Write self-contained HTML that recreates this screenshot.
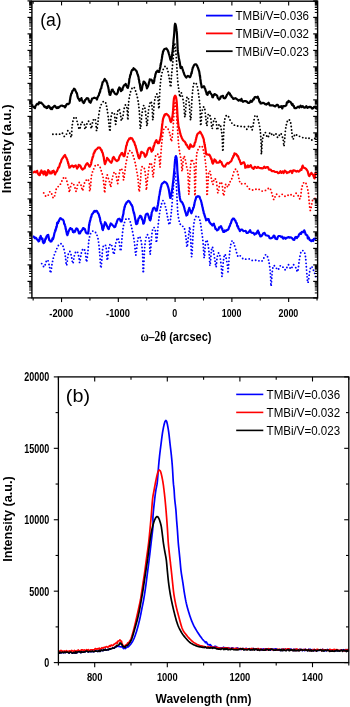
<!DOCTYPE html><html><head><meta charset="utf-8"><style>html,body{margin:0;padding:0;background:#fff;width:350px;height:707px;overflow:hidden}svg{display:block;filter:blur(0.3px)}text{font-family:"Liberation Sans",sans-serif}</style></head><body>
<svg width="350" height="707" viewBox="0 0 350 707">
<rect width="350" height="707" fill="#fff"/>
<g id="curvesA"><path d="M41.70,263.60C42.13,264.17 43.58,267.28 44.30,267.00C45.02,266.72 45.43,263.05 46.00,261.90C46.57,260.75 47.13,259.40 47.70,260.10C48.27,260.80 48.92,263.95 49.40,266.10C49.88,268.25 50.17,273.28 50.60,273.00C51.03,272.72 51.48,267.12 52.00,264.40C52.52,261.68 52.98,259.12 53.70,256.70C54.42,254.28 55.43,251.90 56.30,249.90C57.17,247.90 58.05,245.70 58.90,244.70C59.75,243.70 60.70,243.62 61.40,243.90C62.10,244.18 62.52,244.83 63.10,246.40C63.68,247.97 64.47,251.15 64.90,253.30C65.33,255.45 65.42,257.30 65.70,259.30C65.98,261.30 66.17,266.17 66.60,265.30C67.03,264.43 67.73,256.38 68.30,254.10C68.87,251.82 69.43,251.02 70.00,251.60C70.57,252.18 71.22,255.60 71.70,257.60C72.18,259.60 72.47,263.88 72.90,263.60C73.33,263.32 73.78,257.90 74.30,255.90C74.82,253.90 75.43,252.18 76.00,251.60C76.57,251.02 77.18,251.27 77.70,252.40C78.22,253.53 78.75,256.68 79.10,258.40C79.45,260.12 79.47,263.42 79.80,262.70C80.13,261.98 80.58,256.38 81.10,254.10C81.62,251.82 82.32,249.70 82.90,249.00C83.48,248.30 84.10,248.62 84.60,249.90C85.10,251.18 85.57,254.70 85.90,256.70C86.23,258.70 86.25,262.90 86.60,261.90C86.95,260.90 87.62,254.28 88.00,250.70C88.38,247.12 88.47,243.25 88.90,240.40C89.33,237.55 89.90,235.17 90.60,233.60C91.30,232.03 92.25,231.15 93.10,231.00C93.95,230.85 94.95,231.68 95.70,232.70C96.45,233.72 97.08,235.22 97.60,237.10C98.12,238.98 98.43,241.13 98.80,244.00C99.17,246.87 99.43,250.30 99.80,254.30C100.17,258.30 100.52,268.87 101.00,268.00C101.48,267.13 102.13,252.95 102.70,249.10C103.27,245.25 103.83,245.18 104.40,244.90C104.97,244.62 105.62,244.83 106.10,247.40C106.58,249.97 106.87,260.02 107.30,260.30C107.73,260.58 108.18,251.82 108.70,249.10C109.22,246.38 109.83,244.42 110.40,244.00C110.97,243.58 111.52,244.88 112.10,246.60C112.68,248.32 113.32,254.73 113.90,254.30C114.48,253.87 114.98,246.72 115.60,244.00C116.22,241.28 117.03,238.43 117.60,238.00C118.17,237.57 118.48,239.25 119.00,241.40C119.52,243.55 120.18,251.62 120.70,250.90C121.22,250.18 121.67,241.10 122.10,237.10C122.53,233.10 122.90,229.32 123.30,226.90C123.70,224.48 123.98,223.98 124.50,222.60C125.02,221.22 125.60,219.15 126.40,218.60C127.20,218.05 128.58,218.47 129.30,219.30C130.02,220.13 130.27,222.05 130.70,223.60C131.13,225.15 131.42,226.35 131.90,228.60C132.38,230.85 133.12,234.25 133.60,237.10C134.08,239.95 134.43,242.70 134.80,245.70C135.17,248.70 135.28,256.23 135.80,255.10C136.32,253.97 137.22,241.90 137.90,238.90C138.58,235.90 139.28,236.25 139.90,237.10C140.52,237.95 141.13,240.85 141.60,244.00C142.07,247.15 142.42,251.15 142.70,256.00C142.98,260.85 142.97,274.53 143.30,273.10C143.63,271.67 144.18,253.53 144.70,247.40C145.22,241.27 145.83,238.30 146.40,236.30C146.97,234.30 147.58,234.40 148.10,235.40C148.62,236.40 149.15,239.15 149.50,242.30C149.85,245.45 149.80,255.68 150.20,254.30C150.60,252.92 151.32,238.47 151.90,234.00C152.48,229.53 153.08,227.82 153.70,227.50C154.32,227.18 155.13,229.62 155.60,232.10C156.07,234.58 156.03,243.93 156.50,242.40C156.97,240.87 157.78,228.32 158.40,222.90C159.02,217.48 159.43,213.62 160.20,209.90C160.97,206.18 162.07,200.92 163.00,200.60C163.93,200.28 165.03,205.22 165.80,208.00C166.57,210.78 166.98,214.52 167.60,217.30C168.22,220.08 168.87,225.63 169.50,224.70C170.13,223.77 170.83,217.00 171.40,211.70C171.97,206.40 172.42,198.67 172.90,192.90C173.38,187.13 173.95,180.68 174.30,177.10C174.65,173.52 174.65,169.97 175.00,171.40C175.35,172.83 176.05,180.93 176.40,185.70C176.75,190.47 176.85,195.35 177.10,200.00C177.35,204.65 177.47,209.78 177.90,213.60C178.33,217.42 179.08,220.90 179.70,222.90C180.32,224.90 180.82,224.68 181.60,225.60C182.38,226.52 183.63,226.07 184.40,228.40C185.17,230.73 185.75,236.50 186.20,239.60C186.65,242.70 186.63,248.25 187.10,247.00C187.57,245.75 188.53,235.35 189.00,232.10C189.47,228.85 189.58,225.63 189.90,227.50C190.22,229.37 190.58,238.50 190.90,243.30C191.22,248.10 191.35,259.08 191.80,256.30C192.25,253.52 192.98,233.10 193.60,226.60C194.22,220.10 194.78,219.03 195.50,217.30C196.22,215.57 197.15,215.63 197.90,216.20C198.65,216.77 199.42,218.52 200.00,220.70C200.58,222.88 200.92,225.97 201.40,229.30C201.88,232.63 202.53,237.13 202.90,240.70C203.27,244.27 203.37,247.83 203.60,250.70C203.83,253.57 204.02,258.85 204.30,257.90C204.58,256.95 204.95,247.98 205.30,245.00C205.65,242.02 205.97,240.23 206.40,240.00C206.83,239.77 207.42,241.10 207.90,243.60C208.38,246.10 208.95,251.32 209.30,255.00C209.65,258.68 209.65,266.42 210.00,265.70C210.35,264.98 211.00,253.80 211.40,250.70C211.80,247.60 212.03,246.87 212.40,247.10C212.77,247.33 213.17,249.83 213.60,252.10C214.03,254.37 214.58,258.20 215.00,260.70C215.42,263.20 215.75,267.57 216.10,267.10C216.45,266.63 216.68,260.27 217.10,257.90C217.52,255.53 218.12,253.15 218.60,252.90C219.08,252.65 219.53,253.90 220.00,256.40C220.47,258.90 221.05,264.57 221.40,267.90C221.75,271.23 221.78,277.37 222.10,276.40C222.42,275.43 222.87,265.78 223.30,262.10C223.73,258.42 224.23,255.00 224.70,254.30C225.17,253.60 225.62,255.88 226.10,257.90C226.58,259.92 227.27,264.15 227.60,266.40C227.93,268.65 227.82,273.07 228.10,271.40C228.38,269.73 228.87,260.80 229.30,256.40C229.73,252.00 230.18,247.62 230.70,245.00C231.22,242.38 231.87,240.93 232.40,240.70C232.93,240.47 233.35,242.17 233.90,243.60C234.45,245.03 235.03,247.17 235.70,249.30C236.37,251.43 237.18,255.33 237.90,256.40C238.62,257.47 239.30,255.45 240.00,255.70C240.70,255.95 241.38,257.30 242.10,257.90C242.82,258.50 243.23,259.17 244.30,259.30C245.37,259.43 247.28,258.53 248.50,258.70C249.72,258.87 250.55,260.03 251.60,260.30C252.65,260.57 253.75,260.30 254.80,260.30C255.85,260.30 257.03,260.13 257.90,260.30C258.77,260.47 259.22,261.28 260.00,261.30C260.78,261.32 261.75,261.40 262.60,260.40C263.45,259.40 264.38,256.15 265.10,255.30C265.82,254.45 266.32,254.45 266.90,255.30C267.48,256.15 268.10,258.27 268.60,260.40C269.10,262.53 269.57,265.38 269.90,268.10C270.23,270.82 270.40,273.70 270.60,276.70C270.80,279.70 270.82,286.95 271.10,286.10C271.38,285.25 271.87,275.02 272.30,271.60C272.73,268.18 273.03,266.18 273.70,265.60C274.37,265.02 275.58,267.38 276.30,268.10C277.02,268.82 277.28,270.32 278.00,269.90C278.72,269.48 279.75,266.03 280.60,265.60C281.45,265.17 282.25,266.58 283.10,267.30C283.95,268.02 284.83,270.33 285.70,269.90C286.57,269.47 287.43,264.85 288.30,264.70C289.17,264.55 290.05,269.00 290.90,269.00C291.75,269.00 292.55,264.85 293.40,264.70C294.25,264.55 295.28,266.95 296.00,268.10C296.72,269.25 297.13,273.02 297.70,271.60C298.27,270.18 298.83,262.88 299.40,259.60C299.97,256.32 300.38,253.33 301.10,251.90C301.82,250.47 302.98,250.30 303.70,251.00C304.42,251.70 304.97,253.53 305.40,256.10C305.83,258.67 306.02,262.97 306.30,266.40C306.58,269.83 306.82,273.98 307.10,276.70C307.38,279.42 307.57,283.55 308.00,282.70C308.43,281.85 309.13,274.32 309.70,271.60C310.27,268.88 310.68,266.40 311.40,266.40C312.12,266.40 313.28,269.88 314.00,271.60C314.72,273.32 315.42,275.85 315.70,276.70" fill="none" stroke="#0000ff" stroke-width="1.9" stroke-dasharray="0 3.4" stroke-linecap="round"/>
<path d="M32.90,236.27 L33.82,236.77 L35.00,238.25 L35.72,237.63 L36.44,238.54 L37.10,239.54 L37.85,239.90 L38.60,241.43 L38.98,241.17 L39.39,240.55 L39.82,237.46 L40.26,237.03 L40.70,235.99 L41.26,238.33 L41.84,239.07 L42.40,238.53 L42.90,242.00 L43.61,243.14 L44.30,242.52 L44.68,241.90 L45.12,239.80 L45.57,238.40 L46.01,238.78 L46.40,236.71 L47.19,235.48 L47.90,235.00 L48.25,234.96 L48.58,237.13 L48.92,238.21 L49.30,240.22 L49.87,240.37 L50.49,241.55 L51.10,241.40 L51.54,241.41 L51.98,240.03 L52.43,238.47 L52.90,239.24 L53.23,238.43 L53.58,237.13 L53.93,235.83 L54.29,233.77 L54.65,232.48 L55.00,231.53 L55.26,230.04 L55.52,230.93 L55.78,228.90 L56.04,229.04 L56.31,226.75 L56.57,227.29 L56.83,226.06 L57.10,222.95 L57.54,222.39 L57.98,223.30 L58.42,221.30 L58.86,221.39 L59.30,219.84 L60.35,218.17 L61.40,218.81 L62.13,219.50 L62.87,219.62 L63.60,220.74 L63.87,221.83 L64.14,223.65 L64.41,224.23 L64.68,224.16 L64.95,225.36 L65.21,226.11 L65.46,227.00 L65.70,229.08 L65.96,229.15 L66.21,230.93 L66.45,231.95 L66.68,232.65 L66.91,234.45 L67.15,234.14 L67.40,235.23 L67.70,234.08 L68.01,233.68 L68.32,232.13 L68.64,230.91 L68.97,230.85 L69.30,229.79 L70.33,228.06 L71.40,229.22 L71.95,228.85 L72.50,230.27 L73.05,232.09 L73.60,232.33 L74.33,231.15 L75.06,231.64 L75.70,229.54 L76.39,228.47 L77.10,229.04 L77.42,228.88 L77.78,229.76 L78.16,230.51 L78.54,231.63 L78.93,233.28 L79.30,233.19 L80.00,233.38 L80.70,231.75 L81.40,230.63 L82.13,230.26 L82.87,228.34 L83.60,228.02 L84.13,228.95 L84.65,228.83 L85.17,229.92 L85.70,232.05 L86.46,233.16 L87.22,233.37 L87.90,233.10 L88.07,233.50 L88.23,233.12 L88.38,231.06 L88.52,231.26 L88.65,230.06 L88.78,228.48 L88.91,227.06 L89.03,225.48 L89.16,224.40 L89.30,225.04 L89.52,222.72 L89.74,222.46 L89.95,220.84 L90.17,220.88 L90.42,219.66 L90.70,218.27 L91.02,217.09 L91.38,216.91 L91.76,214.82 L92.14,214.08 L92.53,213.72 L92.90,213.46 L93.61,212.09 L94.30,211.00 L95.00,211.77 L96.04,210.75 L97.10,211.33 L97.54,212.32 L97.98,213.32 L98.42,213.56 L98.86,214.74 L99.30,216.19 L99.54,217.25 L99.78,217.38 L100.03,218.65 L100.27,220.45 L100.51,221.56 L100.75,222.00 L100.98,222.98 L101.19,223.66 L101.40,223.72 L101.73,224.92 L102.01,226.28 L102.29,228.92 L102.57,229.40 L102.90,230.04 L103.17,228.14 L103.46,228.25 L103.76,226.84 L104.07,225.97 L104.38,224.10 L104.69,224.23 L105.00,222.22 L105.72,223.22 L106.44,224.80 L107.10,226.34 L107.62,227.33 L108.08,228.54 L108.60,229.07 L108.91,228.81 L109.25,227.04 L109.61,226.49 L109.97,225.73 L110.34,224.75 L110.70,223.47 L111.80,224.32 L112.90,225.58 L113.61,226.08 L114.30,227.20 L115.00,226.91 L115.30,226.73 L115.60,225.94 L115.89,224.05 L116.19,223.81 L116.49,223.25 L116.79,222.07 L117.10,221.07 L117.83,219.32 L118.57,219.15 L119.30,218.73 L120.03,219.39 L120.75,221.46 L121.40,220.73 L121.68,221.39 L121.92,219.54 L122.15,219.51 L122.38,218.20 L122.62,216.57 L122.90,216.02 L123.07,214.92 L123.25,214.24 L123.43,213.78 L123.62,211.72 L123.81,210.30 L124.01,209.74 L124.21,209.33 L124.41,207.61 L124.61,206.66 L124.81,207.03 L125.00,205.96 L125.52,204.19 L126.04,203.95 L126.57,202.37 L127.10,202.37 L128.20,200.86 L129.30,201.29 L130.00,202.43 L130.70,203.55 L131.40,204.91 L131.67,204.78 L131.95,205.84 L132.22,206.23 L132.50,206.82 L132.78,208.33 L133.05,209.86 L133.33,210.90 L133.60,211.74 L133.80,212.95 L134.00,212.78 L134.20,213.58 L134.41,215.04 L134.61,215.79 L134.81,216.71 L135.01,218.03 L135.19,219.31 L135.37,219.96 L135.54,220.45 L135.70,221.94 L136.15,223.98 L136.50,224.16 L136.90,223.62 L137.15,223.06 L137.41,223.50 L137.69,221.04 L137.99,220.89 L138.29,219.56 L138.60,218.29 L139.28,217.83 L140.00,215.75 L140.70,215.82 L141.11,216.79 L141.52,216.96 L141.91,219.30 L142.28,219.41 L142.60,220.13 L142.96,221.45 L143.22,223.69 L143.60,223.51 L143.79,223.37 L144.01,222.71 L144.24,222.04 L144.50,221.24 L144.75,219.70 L145.01,217.82 L145.26,217.23 L145.49,215.87 L145.70,214.92 L146.44,213.94 L147.10,213.94 L147.59,213.63 L148.08,214.86 L148.60,216.15 L149.01,217.85 L149.43,218.95 L149.86,220.12 L150.30,220.41 L150.49,219.39 L150.69,219.29 L150.88,218.53 L151.07,216.12 L151.27,216.29 L151.47,214.76 L151.67,212.66 L151.88,212.16 L152.10,211.60 L152.52,210.79 L152.96,208.79 L153.41,208.15 L153.86,207.99 L154.30,207.57 L154.85,208.39 L155.39,208.97 L155.92,210.56 L156.40,210.23 L156.65,210.68 L156.88,210.17 L157.09,209.00 L157.30,208.07 L157.50,206.12 L157.70,206.06 L157.90,205.07 L158.06,204.21 L158.20,202.62 L158.35,202.11 L158.49,200.42 L158.64,200.39 L158.79,199.32 L158.94,197.51 L159.11,196.06 L159.30,195.61 L159.46,194.90 L159.63,194.32 L159.80,192.90 L159.98,191.17 L160.16,191.42 L160.35,189.24 L160.55,189.46 L160.75,187.53 L160.96,186.93 L161.18,186.86 L161.40,185.12 L161.94,183.82 L162.54,183.32 L163.16,182.79 L163.76,182.34 L164.30,181.70 L165.39,182.24 L166.40,182.90 L166.77,183.70 L167.14,184.23 L167.52,185.18 L167.90,186.29 L168.26,187.33 L168.60,188.67 L168.79,189.49 L168.98,190.45 L169.17,191.64 L169.35,192.71 L169.53,193.79 L169.70,194.92 L169.86,196.07 L170.02,196.95 L170.16,197.40 L170.30,198.01 L170.58,197.99 L170.81,196.76 L171.00,195.29 L171.20,193.91 L171.40,193.22 L171.58,192.54 L171.77,191.73 L172.00,190.26 L172.10,189.85 L172.22,188.92 L172.34,188.02 L172.46,187.22 L172.59,186.18 L172.72,185.15 L172.84,184.19 L172.97,182.97 L173.09,182.10 L173.20,181.07 L173.30,180.34 L173.40,179.42 L173.50,178.30 L173.59,177.43 L173.68,176.39 L173.78,175.54 L173.87,174.72 L173.95,173.82 L174.04,172.77 L174.12,171.83 L174.20,170.91 L174.28,170.07 L174.36,169.19 L174.44,167.97 L174.51,167.19 L174.58,166.01 L174.65,165.13 L174.71,164.25 L174.78,163.55 L174.84,162.66 L174.90,161.96 L175.01,160.80 L175.11,159.60 L175.21,158.92 L175.30,158.01 L175.40,157.50 L175.90,156.13 L176.50,157.71 L176.61,158.57 L176.71,159.47 L176.81,160.51 L176.91,161.70 L177.00,163.01 L177.05,163.75 L177.10,164.67 L177.14,165.74 L177.18,166.74 L177.23,167.73 L177.27,168.89 L177.33,169.91 L177.40,171.11 L177.46,171.76 L177.52,172.79 L177.59,173.72 L177.66,174.67 L177.74,175.44 L177.81,176.39 L177.89,177.52 L177.97,178.26 L178.05,179.43 L178.13,180.32 L178.20,180.99 L178.28,181.99 L178.36,183.10 L178.43,183.91 L178.51,184.81 L178.59,185.97 L178.67,186.78 L178.75,187.81 L178.83,188.52 L178.91,189.49 L179.00,190.46 L179.10,191.24 L179.21,192.29 L179.33,193.44 L179.44,194.49 L179.56,195.46 L179.67,196.11 L179.79,197.07 L179.90,197.91 L180.00,198.50 L180.27,199.99 L180.52,200.70 L180.80,201.27 L181.90,201.98 L182.27,202.57 L182.69,203.51 L183.13,204.48 L183.60,205.72 L183.85,206.36 L184.11,207.27 L184.39,208.27 L184.67,209.50 L184.95,210.56 L185.21,211.50 L185.47,212.10 L185.70,212.77 L186.39,215.52 L187.10,214.94 L187.37,214.86 L187.67,213.20 L187.99,212.24 L188.32,211.06 L188.66,209.78 L188.98,209.19 L189.30,207.82 L189.72,209.26 L190.14,210.59 L190.56,210.88 L190.98,212.44 L191.40,213.28 L191.76,212.40 L192.13,211.33 L192.50,210.26 L192.87,209.63 L193.24,207.56 L193.60,207.73 L193.84,206.73 L194.07,205.61 L194.30,204.84 L194.52,203.41 L194.75,201.99 L194.98,201.28 L195.22,200.17 L195.45,200.09 L195.70,199.09 L196.27,196.94 L196.87,197.05 L197.48,196.23 L198.10,196.14 L198.76,196.55 L199.44,196.68 L200.11,198.59 L200.70,199.91 L200.95,200.39 L201.18,201.40 L201.39,202.37 L201.59,202.82 L201.79,204.39 L201.98,204.41 L202.18,205.87 L202.40,207.05 L202.63,207.26 L202.86,208.75 L203.09,210.13 L203.33,211.03 L203.56,211.31 L203.81,213.33 L204.05,213.74 L204.30,214.04 L204.65,215.67 L205.01,216.69 L205.38,217.74 L205.74,218.50 L206.08,220.28 L206.40,220.23 L207.15,219.71 L207.90,219.02 L208.28,219.89 L208.68,219.22 L209.11,221.20 L209.55,222.43 L210.00,222.51 L210.60,223.65 L211.24,223.95 L211.86,224.86 L212.40,225.50 L213.20,224.18 L213.90,223.70 L214.27,225.41 L214.64,225.99 L215.04,227.16 L215.50,228.85 L216.24,229.06 L217.08,230.33 L217.90,229.82 L218.50,229.53 L219.10,227.37 L219.68,227.21 L220.20,226.91 L221.04,226.13 L221.80,228.79 L222.18,228.50 L222.56,230.20 L222.95,230.83 L223.40,231.99 L224.11,232.02 L224.90,230.37 L225.70,231.11 L226.90,230.12 L228.10,229.64 L228.49,229.10 L228.87,227.87 L229.25,226.75 L229.63,226.30 L230.01,225.12 L230.40,223.75 L230.88,223.37 L231.36,221.57 L231.84,220.07 L232.32,219.57 L232.80,218.67 L233.95,218.61 L235.10,220.61 L235.49,220.68 L235.89,222.35 L236.29,223.10 L236.70,223.03 L237.10,225.56 L237.50,226.41 L237.98,226.10 L238.46,228.55 L238.95,228.84 L239.43,229.79 L239.90,231.16 L241.05,229.55 L242.20,229.66 L243.35,231.03 L244.60,231.00 L245.61,230.88 L246.69,232.91 L247.70,232.86 L248.95,231.83 L250.10,230.16 L250.84,232.16 L251.57,232.68 L252.40,232.80 L253.43,232.92 L254.57,234.56 L255.60,233.39 L256.24,233.56 L256.80,233.06 L257.34,231.47 L257.90,230.56 L258.36,231.83 L258.82,232.28 L259.28,234.32 L259.77,234.62 L260.30,236.44 L261.27,236.23 L262.31,234.97 L263.40,233.19 L264.54,232.88 L265.73,235.23 L266.90,235.47 L267.59,235.63 L268.27,235.74 L268.94,236.37 L269.62,238.20 L270.30,238.28 L271.15,238.20 L272.00,237.72 L272.85,237.39 L273.70,235.56 L274.55,235.99 L275.39,238.55 L276.24,238.96 L277.10,239.12 L277.97,236.57 L278.85,236.01 L279.73,235.98 L280.60,236.20 L281.46,237.18 L282.31,236.63 L283.15,238.66 L284.00,237.85 L284.85,237.70 L285.69,238.74 L286.54,237.79 L287.40,237.65 L288.56,237.04 L289.74,237.68 L290.90,237.32 L292.04,238.10 L293.17,239.62 L294.30,239.91 L295.15,237.47 L296.00,236.94 L296.85,238.02 L297.70,236.73 L298.38,236.48 L299.07,234.27 L299.76,234.11 L300.44,232.96 L301.10,233.84 L301.92,231.87 L302.73,231.86 L303.50,232.21 L304.20,230.33 L304.78,231.47 L305.28,233.01 L305.76,234.69 L306.30,234.50 L306.79,235.22 L307.31,235.43 L307.84,238.46 L308.38,237.16 L308.90,237.87 L309.74,240.03 L310.56,240.37 L311.40,241.20 L312.26,240.08 L313.14,241.01 L314.00,238.76 L315.41,238.63 L316.50,239.44" fill="none" stroke="#0000ff" stroke-width="2.2" stroke-linejoin="round"/>
<path d="M43.70,192.90C44.08,193.47 45.23,195.93 46.00,196.30C46.77,196.67 47.63,195.87 48.30,195.10C48.97,194.33 49.43,191.88 50.00,191.70C50.57,191.52 51.13,192.95 51.70,194.00C52.27,195.05 52.83,197.90 53.40,198.00C53.97,198.10 54.72,195.75 55.10,194.60C55.48,193.45 55.40,192.25 55.70,191.10C56.00,189.95 56.23,188.65 56.90,187.70C57.57,186.75 58.95,186.35 59.70,185.40C60.45,184.45 60.83,183.13 61.40,182.00C61.97,180.87 62.52,179.45 63.10,178.60C63.68,177.75 64.32,176.62 64.90,176.90C65.48,177.18 66.13,179.07 66.60,180.30C67.07,181.53 67.32,182.97 67.70,184.30C68.08,185.63 68.62,186.97 68.90,188.30C69.18,189.63 69.10,192.62 69.40,192.30C69.70,191.98 70.25,187.97 70.70,186.40C71.15,184.83 71.62,183.25 72.10,182.90C72.58,182.55 73.12,183.47 73.60,184.30C74.08,185.13 74.53,186.72 75.00,187.90C75.47,189.08 75.92,192.12 76.40,191.40C76.88,190.68 77.30,185.02 77.90,183.60C78.50,182.18 79.42,182.43 80.00,182.90C80.58,183.37 80.97,185.10 81.40,186.40C81.83,187.70 82.12,191.17 82.60,190.70C83.08,190.23 83.67,185.38 84.30,183.60C84.93,181.82 85.80,180.72 86.40,180.00C87.00,179.28 87.42,178.70 87.90,179.30C88.38,179.90 89.00,181.58 89.30,183.60C89.60,185.62 89.47,191.17 89.70,191.40C89.93,191.63 90.42,187.50 90.70,185.00C90.98,182.50 91.03,178.78 91.40,176.40C91.77,174.02 92.42,172.12 92.90,170.70C93.38,169.28 93.83,168.85 94.30,167.90C94.77,166.95 95.10,165.48 95.70,165.00C96.30,164.52 97.18,164.65 97.90,165.00C98.62,165.35 99.42,166.03 100.00,167.10C100.58,168.17 100.92,169.85 101.40,171.40C101.88,172.95 102.53,174.62 102.90,176.40C103.27,178.18 103.37,180.18 103.60,182.10C103.83,184.02 104.12,186.10 104.30,187.90C104.48,189.70 104.47,193.87 104.70,192.90C104.93,191.93 105.30,185.08 105.70,182.10C106.10,179.12 106.62,175.47 107.10,175.00C107.58,174.53 108.12,177.87 108.60,179.30C109.08,180.73 109.65,182.30 110.00,183.60C110.35,184.90 110.35,187.82 110.70,187.10C111.05,186.38 111.62,181.55 112.10,179.30C112.58,177.05 113.12,174.80 113.60,173.60C114.08,172.40 114.53,171.63 115.00,172.10C115.47,172.57 115.97,174.48 116.40,176.40C116.83,178.32 117.23,183.35 117.60,183.60C117.97,183.85 118.20,180.17 118.60,177.90C119.00,175.63 119.53,171.55 120.00,170.00C120.47,168.45 120.92,168.12 121.40,168.60C121.88,169.08 122.53,171.00 122.90,172.90C123.27,174.80 123.25,180.37 123.60,180.00C123.95,179.63 124.65,173.20 125.00,170.70C125.35,168.20 125.35,167.13 125.70,165.00C126.05,162.87 126.62,160.05 127.10,157.90C127.58,155.75 128.00,153.30 128.60,152.10C129.20,150.90 129.98,150.22 130.70,150.70C131.42,151.18 132.18,153.10 132.90,155.00C133.62,156.90 134.42,159.72 135.00,162.10C135.58,164.48 135.92,166.67 136.40,169.30C136.88,171.93 137.53,175.05 137.90,177.90C138.27,180.75 138.37,184.15 138.60,186.40C138.83,188.65 138.95,192.82 139.30,191.40C139.65,189.98 140.35,181.82 140.70,177.90C141.05,173.98 140.92,169.70 141.40,167.90C141.88,166.10 143.00,166.52 143.60,167.10C144.20,167.68 144.60,169.02 145.00,171.40C145.40,173.78 145.77,178.30 146.00,181.40C146.23,184.50 146.08,190.95 146.40,190.00C146.72,189.05 147.42,179.75 147.90,175.70C148.38,171.65 148.83,167.83 149.30,165.70C149.77,163.57 150.23,162.67 150.70,162.90C151.17,163.13 151.70,164.73 152.10,167.10C152.50,169.47 152.73,177.33 153.10,177.10C153.47,176.87 153.87,169.27 154.30,165.70C154.73,162.13 155.10,157.60 155.70,155.70C156.30,153.80 157.30,153.82 157.90,154.30C158.50,154.78 158.95,156.47 159.30,158.60C159.65,160.73 159.77,167.35 160.00,167.10C160.23,166.85 160.47,160.43 160.70,157.10C160.93,153.77 161.17,149.95 161.40,147.10C161.63,144.25 161.73,142.85 162.10,140.00C162.47,137.15 163.00,132.15 163.60,130.00C164.20,127.85 164.98,127.33 165.70,127.10C166.42,126.87 167.18,127.40 167.90,128.60C168.62,129.80 169.42,132.17 170.00,134.30C170.58,136.43 170.92,142.12 171.40,141.40C171.88,140.68 172.42,135.47 172.90,130.00C173.38,124.53 173.95,113.37 174.30,108.60C174.65,103.83 174.72,101.40 175.00,101.40C175.28,101.40 175.65,105.02 176.00,108.60C176.35,112.18 176.78,118.62 177.10,122.90C177.42,127.18 177.65,130.73 177.90,134.30C178.15,137.87 178.25,140.97 178.60,144.30C178.95,147.63 179.53,151.45 180.00,154.30C180.47,157.15 181.05,158.55 181.40,161.40C181.75,164.25 181.73,172.12 182.10,171.40C182.47,170.68 183.12,159.23 183.60,157.10C184.08,154.97 184.53,157.17 185.00,158.60C185.47,160.03 185.92,163.32 186.40,165.70C186.88,168.08 187.48,168.13 187.90,172.90C188.32,177.67 188.55,194.30 188.90,194.30C189.25,194.30 189.58,178.62 190.00,172.90C190.42,167.18 190.92,161.92 191.40,160.00C191.88,158.08 192.42,160.22 192.90,161.40C193.38,162.58 193.95,161.38 194.30,167.10C194.65,172.82 194.65,197.12 195.00,195.70C195.35,194.28 195.92,166.22 196.40,158.60C196.88,150.98 197.30,152.03 197.90,150.00C198.50,147.97 199.30,147.00 200.00,146.40C200.70,145.80 201.50,145.57 202.10,146.40C202.70,147.23 203.12,149.37 203.60,151.40C204.08,153.43 204.53,155.02 205.00,158.60C205.47,162.18 206.05,166.72 206.40,172.90C206.75,179.08 206.73,195.47 207.10,195.70C207.47,195.93 208.12,178.35 208.60,174.30C209.08,170.25 209.53,170.68 210.00,171.40C210.47,172.12 210.92,176.45 211.40,178.60C211.88,180.75 212.42,184.30 212.90,184.30C213.38,184.30 213.72,179.08 214.30,178.60C214.88,178.12 215.80,179.02 216.40,181.40C217.00,183.78 217.30,192.65 217.90,192.90C218.50,193.15 219.30,184.33 220.00,182.90C220.70,181.47 221.50,182.17 222.10,184.30C222.70,186.43 223.00,195.70 223.60,195.70C224.20,195.70 224.98,185.73 225.70,184.30C226.42,182.87 227.27,187.32 227.90,187.10C228.53,186.88 228.80,184.53 229.50,183.00C230.20,181.47 231.30,179.95 232.10,177.90C232.90,175.85 233.58,172.13 234.30,170.70C235.02,169.27 235.80,168.82 236.40,169.30C237.00,169.78 237.42,171.82 237.90,173.60C238.38,175.38 238.83,178.33 239.30,180.00C239.77,181.67 239.75,183.00 240.70,183.60C241.65,184.20 243.57,182.72 245.00,183.60C246.43,184.48 247.87,187.83 249.30,188.90C250.73,189.97 252.17,190.00 253.60,190.00C255.03,190.00 256.48,188.72 257.90,188.90C259.32,189.08 260.68,190.92 262.10,191.10C263.52,191.28 265.15,190.53 266.40,190.00C267.65,189.47 268.70,187.37 269.60,187.90C270.50,188.43 271.08,191.25 271.80,193.20C272.52,195.15 273.18,199.42 273.90,199.60C274.62,199.78 275.20,194.83 276.10,194.30C277.00,193.77 278.23,196.40 279.30,196.40C280.37,196.40 281.43,194.30 282.50,194.30C283.57,194.30 284.45,196.40 285.70,196.40C286.95,196.40 288.75,194.30 290.00,194.30C291.25,194.30 292.13,196.58 293.20,196.40C294.27,196.22 295.50,193.20 296.40,193.20C297.30,193.20 297.95,195.50 298.60,196.40C299.25,197.30 299.77,200.02 300.30,198.60C300.83,197.18 301.20,190.58 301.80,187.90C302.40,185.22 303.18,183.22 303.90,182.50C304.62,181.78 305.38,182.00 306.10,183.60C306.82,185.20 307.67,188.88 308.20,192.10C308.73,195.32 308.93,199.85 309.30,202.90C309.67,205.95 309.87,210.77 310.40,210.40C310.93,210.03 311.80,202.67 312.50,200.70C313.20,198.73 313.93,198.88 314.60,198.60C315.27,198.32 316.18,198.93 316.50,199.00" fill="none" stroke="#ff0000" stroke-width="1.9" stroke-dasharray="0 3.4" stroke-linecap="round"/>
<path d="M32.90,172.83 L33.51,172.44 L34.30,171.85 L35.00,171.58 L35.70,172.28 L36.35,172.07 L37.10,170.79 L37.60,172.90 L38.16,173.80 L38.74,174.74 L39.30,175.16 L39.83,174.91 L40.35,172.33 L40.87,171.90 L41.40,170.49 L42.16,172.96 L42.92,171.79 L43.60,174.46 L44.35,171.26 L45.00,171.90 L45.33,171.64 L45.65,173.07 L45.99,175.44 L46.40,173.70 L46.79,173.33 L47.23,174.59 L47.69,172.25 L48.15,170.08 L48.60,172.02 L49.13,172.40 L49.65,171.37 L50.17,173.46 L50.70,173.31 L51.25,173.41 L51.80,173.27 L52.35,171.01 L52.90,171.93 L53.61,170.73 L54.30,172.17 L55.00,174.45 L55.70,172.82 L56.39,171.79 L57.10,170.96 L57.46,169.93 L57.83,168.88 L58.20,167.58 L58.57,167.81 L58.94,167.31 L59.30,166.46 L59.65,165.12 L60.00,163.78 L60.35,162.94 L60.70,162.62 L61.05,161.77 L61.40,160.08 L61.85,159.31 L62.31,158.54 L62.77,157.85 L63.21,157.51 L63.60,156.40 L65.00,154.95 L65.69,157.01 L66.40,157.79 L66.76,158.80 L67.13,159.33 L67.50,160.77 L67.90,161.92 L68.18,163.50 L68.48,163.58 L68.79,165.48 L69.10,165.98 L69.40,167.69 L69.70,167.16 L70.26,167.27 L70.80,166.21 L71.40,165.92 L72.48,165.63 L73.60,167.03 L74.70,165.88 L75.70,165.35 L76.39,166.86 L77.10,168.63 L77.60,167.37 L78.16,167.14 L78.74,164.90 L79.30,165.68 L80.00,165.38 L80.70,166.33 L81.40,168.30 L82.50,169.67 L83.60,168.51 L84.13,168.35 L84.65,168.15 L85.17,166.36 L85.70,165.29 L86.43,163.92 L87.17,163.15 L87.90,163.79 L88.63,165.21 L89.36,166.61 L90.00,166.41 L90.32,165.26 L90.61,164.97 L90.87,164.72 L91.12,163.69 L91.40,162.32 L91.64,160.80 L91.87,160.35 L92.11,159.30 L92.35,158.56 L92.61,156.99 L92.90,157.11 L93.22,156.04 L93.56,153.83 L93.91,152.99 L94.28,152.93 L94.64,151.09 L95.00,151.41 L95.70,149.71 L96.39,149.38 L97.10,148.93 L98.20,147.53 L99.30,147.56 L100.00,147.84 L100.70,149.17 L101.40,150.31 L101.72,150.09 L102.04,152.11 L102.38,152.27 L102.71,152.96 L103.03,154.28 L103.33,156.17 L103.60,156.50 L103.81,157.54 L103.99,159.10 L104.15,160.32 L104.31,161.13 L104.46,161.63 L104.62,162.78 L104.80,163.92 L105.00,164.06 L105.31,163.53 L105.64,162.36 L106.00,161.25 L106.37,160.62 L106.74,159.31 L107.10,157.83 L108.20,159.19 L109.30,160.65 L110.00,161.39 L110.70,162.54 L111.40,162.76 L111.76,161.64 L112.13,161.13 L112.50,159.36 L112.87,157.80 L113.24,157.32 L113.60,156.80 L114.30,158.26 L115.00,159.21 L115.70,160.07 L116.80,161.04 L117.90,160.10 L118.26,160.22 L118.61,159.67 L118.96,158.21 L119.30,156.96 L119.65,156.28 L120.00,155.42 L120.70,154.93 L121.39,153.31 L122.10,152.94 L122.83,154.14 L123.57,156.05 L124.30,156.12 L124.49,155.48 L124.69,155.26 L124.88,153.51 L125.07,152.02 L125.26,151.71 L125.44,150.55 L125.63,149.02 L125.82,148.71 L126.01,147.17 L126.21,146.07 L126.40,145.42 L126.76,145.17 L127.13,142.56 L127.50,142.13 L127.87,141.12 L128.24,140.21 L128.60,139.89 L129.30,138.43 L130.00,138.83 L130.70,137.90 L131.43,138.52 L132.17,138.44 L132.90,139.94 L133.33,140.84 L133.75,141.98 L134.16,141.87 L134.58,143.16 L135.00,144.87 L135.26,145.58 L135.52,145.44 L135.78,146.81 L136.04,148.09 L136.31,148.44 L136.57,149.83 L136.83,150.75 L137.10,152.16 L137.37,152.48 L137.65,153.80 L137.92,154.46 L138.20,156.22 L138.48,156.61 L138.75,157.76 L139.03,158.13 L139.30,158.29 L139.60,157.74 L139.90,157.09 L140.20,156.46 L140.50,154.70 L140.80,153.10 L141.10,153.25 L141.40,151.76 L142.50,152.57 L143.60,153.06 L144.13,153.64 L144.65,155.70 L145.17,156.79 L145.70,156.11 L146.01,155.37 L146.32,155.39 L146.64,154.67 L146.96,153.14 L147.28,152.26 L147.59,150.64 L147.90,150.19 L148.61,148.40 L149.30,147.88 L150.00,147.71 L150.52,148.45 L151.04,149.80 L151.57,151.63 L152.10,150.87 L152.37,150.52 L152.65,149.90 L152.92,150.11 L153.20,148.33 L153.48,146.46 L153.75,146.61 L154.03,145.69 L154.30,144.81 L154.83,142.79 L155.35,142.29 L155.87,140.80 L156.40,140.12 L157.13,141.88 L157.87,143.08 L158.60,142.44 L158.95,143.13 L159.30,141.22 L159.65,140.90 L160.00,139.39 L160.35,138.29 L160.70,136.56 L160.81,136.80 L160.93,135.40 L161.04,134.42 L161.15,133.54 L161.27,132.82 L161.38,132.74 L161.49,131.33 L161.61,129.49 L161.72,129.38 L161.84,128.10 L161.95,126.91 L162.07,126.01 L162.19,125.21 L162.30,124.48 L162.42,123.08 L162.54,122.41 L162.66,121.34 L162.78,120.87 L162.90,119.82 L163.24,118.37 L163.58,117.31 L163.94,116.65 L164.29,115.18 L164.64,115.60 L164.98,114.41 L165.30,114.57 L166.33,113.77 L167.30,114.64 L167.98,115.18 L168.66,115.96 L169.30,117.07 L169.65,118.12 L169.98,119.44 L170.30,120.74 L170.61,121.53 L170.90,121.97 L171.26,121.69 L171.59,120.74 L171.91,119.38 L172.20,117.85 L172.33,117.11 L172.46,116.16 L172.58,115.34 L172.70,114.28 L172.81,113.31 L172.91,112.23 L173.01,111.10 L173.10,110.13 L173.18,108.83 L173.25,107.84 L173.31,106.97 L173.37,105.77 L173.42,104.66 L173.48,103.83 L173.54,102.81 L173.60,102.01 L173.71,100.78 L173.82,99.75 L173.93,98.82 L174.06,98.21 L174.20,97.64 L174.63,96.31 L175.10,95.68 L175.56,96.11 L176.00,97.16 L176.16,97.84 L176.30,98.86 L176.44,99.73 L176.58,100.83 L176.70,101.85 L176.77,102.77 L176.84,103.77 L176.90,104.83 L176.96,105.90 L177.02,106.94 L177.08,107.88 L177.14,108.94 L177.20,110.11 L177.26,111.15 L177.32,112.00 L177.37,112.91 L177.43,114.04 L177.49,115.01 L177.55,115.96 L177.62,116.92 L177.70,117.97 L177.78,119.06 L177.87,119.98 L177.97,121.19 L178.07,122.39 L178.17,123.37 L178.28,124.21 L178.39,125.17 L178.50,125.88 L178.73,127.33 L178.98,128.23 L179.23,128.93 L179.50,130.01 L179.71,130.96 L179.92,131.95 L180.14,132.92 L180.39,133.93 L180.70,134.96 L181.01,136.02 L181.36,136.72 L181.74,137.68 L182.14,138.54 L182.53,139.24 L182.90,139.97 L183.61,140.77 L184.30,141.34 L185.00,142.06 L185.52,142.87 L186.04,144.55 L186.57,144.49 L187.10,145.43 L187.66,146.90 L188.24,147.48 L188.80,148.42 L189.30,148.84 L189.62,147.41 L189.88,147.33 L190.12,145.22 L190.38,144.42 L190.70,144.80 L191.38,145.75 L192.14,146.70 L192.90,146.57 L193.33,146.67 L193.75,145.75 L194.16,145.73 L194.58,143.66 L195.00,142.41 L195.23,142.38 L195.45,141.52 L195.67,140.50 L195.89,139.33 L196.11,139.11 L196.34,137.33 L196.58,137.19 L196.83,135.51 L197.10,134.94 L197.79,133.56 L198.55,133.22 L199.31,132.70 L200.00,131.68 L200.78,132.63 L201.47,134.08 L202.10,135.00 L202.44,135.99 L202.75,136.67 L203.04,137.65 L203.32,138.01 L203.60,138.99 L203.78,139.28 L203.96,141.47 L204.13,142.16 L204.31,142.41 L204.48,144.25 L204.65,145.10 L204.83,144.86 L205.00,146.94 L205.15,147.21 L205.30,148.09 L205.44,149.11 L205.58,150.49 L205.72,151.02 L205.87,152.05 L206.04,153.07 L206.21,154.14 L206.40,154.45 L207.46,154.41 L208.60,154.83 L209.30,154.67 L210.00,155.80 L210.70,157.26 L211.06,158.69 L211.43,158.59 L211.80,159.96 L212.17,162.13 L212.54,163.10 L212.90,163.59 L213.43,162.54 L213.96,161.02 L214.48,159.42 L215.00,159.96 L215.51,160.24 L216.00,161.05 L216.52,162.66 L217.10,162.52 L218.04,162.69 L219.06,162.47 L220.00,160.77 L220.76,162.00 L221.42,162.13 L222.10,164.14 L222.65,165.07 L223.20,165.89 L223.75,166.54 L224.30,166.33 L225.00,166.57 L225.70,165.14 L226.40,164.14 L227.50,162.84 L228.60,163.57 L229.65,162.37 L230.70,161.50 L231.14,161.25 L231.58,160.48 L232.02,158.98 L232.46,158.02 L232.90,157.66 L233.43,155.85 L233.96,155.63 L234.48,153.35 L235.00,154.07 L236.04,153.86 L237.10,155.20 L237.54,156.46 L237.98,156.06 L238.42,157.29 L238.86,158.87 L239.30,159.69 L239.72,160.28 L240.14,162.01 L240.56,162.72 L240.98,164.06 L241.40,164.01 L242.50,162.89 L243.60,162.32 L244.02,162.38 L244.44,163.45 L244.86,164.30 L245.28,167.78 L245.70,166.13 L246.80,167.33 L247.90,165.41 L248.86,167.15 L250.00,165.79 L250.78,165.14 L251.66,167.44 L252.62,168.09 L253.60,168.79 L254.63,166.88 L255.71,167.35 L256.82,167.98 L257.90,166.91 L258.95,167.69 L260.00,168.04 L261.05,168.18 L262.10,168.37 L263.17,168.10 L264.24,166.72 L265.32,167.96 L266.40,167.32 L267.26,167.08 L268.12,167.36 L268.98,169.75 L269.84,169.76 L270.70,169.60 L271.77,171.12 L272.85,171.22 L273.93,171.18 L275.00,171.98 L276.07,171.98 L277.15,171.95 L278.23,173.14 L279.30,172.89 L280.38,171.26 L281.45,172.80 L282.53,171.30 L283.60,172.98 L284.68,170.61 L285.76,171.31 L286.83,172.97 L287.90,172.24 L288.95,172.38 L290.00,171.07 L291.05,170.86 L292.10,173.04 L293.17,170.43 L294.24,170.44 L295.32,170.81 L296.40,171.56 L297.51,170.96 L298.66,171.63 L299.74,170.78 L300.70,169.43 L301.46,169.91 L302.09,167.24 L302.68,165.59 L303.30,167.64 L303.98,167.73 L304.66,167.90 L305.37,168.44 L306.10,168.80 L306.62,169.70 L307.18,170.35 L307.74,171.53 L308.30,173.62 L308.83,175.58 L309.30,176.17 L310.08,174.74 L310.73,174.04 L311.40,172.81 L312.17,173.99 L312.95,174.62 L313.60,176.31 L314.02,177.23 L314.30,178.20 L314.60,178.44 L314.78,176.84 L314.95,176.75 L315.13,175.54 L315.31,173.57 L315.50,172.71 L315.70,172.66 L317.00,173.12" fill="none" stroke="#ff0000" stroke-width="2.2" stroke-linejoin="round"/>
<path d="M52.90,134.30C53.48,134.30 55.33,134.30 56.40,134.30C57.47,134.30 58.35,134.53 59.30,134.30C60.25,134.07 61.27,132.55 62.10,132.90C62.93,133.25 63.58,136.17 64.30,136.40C65.02,136.63 65.80,135.25 66.40,134.30C67.00,133.35 67.30,130.82 67.90,130.70C68.50,130.58 69.42,132.53 70.00,133.60C70.58,134.67 71.05,138.30 71.40,137.10C71.75,135.90 71.73,129.48 72.10,126.40C72.47,123.32 73.00,120.15 73.60,118.60C74.20,117.05 75.12,116.63 75.70,117.10C76.28,117.57 76.50,119.37 77.10,121.40C77.70,123.43 78.70,128.58 79.30,129.30C79.90,130.02 80.35,126.90 80.70,125.70C81.05,124.50 80.80,122.33 81.40,122.10C82.00,121.87 83.70,123.10 84.30,124.30C84.90,125.50 84.65,129.07 85.00,129.30C85.35,129.53 85.92,127.02 86.40,125.70C86.88,124.38 87.30,121.87 87.90,121.40C88.50,120.93 89.42,121.70 90.00,122.90C90.58,124.10 90.97,128.73 91.40,128.60C91.83,128.47 92.12,123.77 92.60,122.10C93.08,120.43 93.78,118.72 94.30,118.60C94.82,118.48 95.32,119.38 95.70,121.40C96.08,123.42 96.23,130.45 96.60,130.70C96.97,130.95 97.57,125.28 97.90,122.90C98.23,120.52 98.25,118.90 98.60,116.40C98.95,113.90 99.53,109.92 100.00,107.90C100.47,105.88 100.80,105.38 101.40,104.30C102.00,103.22 102.88,101.63 103.60,101.40C104.32,101.17 105.12,101.58 105.70,102.90C106.28,104.22 106.62,106.45 107.10,109.30C107.58,112.15 108.23,117.03 108.60,120.00C108.97,122.97 109.07,125.20 109.30,127.10C109.53,129.00 109.77,132.58 110.00,131.40C110.23,130.22 110.35,123.08 110.70,120.00C111.05,116.92 111.50,113.97 112.10,112.90C112.70,111.83 113.82,112.53 114.30,113.60C114.78,114.67 114.77,117.52 115.00,119.30C115.23,121.08 115.47,124.30 115.70,124.30C115.93,124.30 116.03,121.57 116.40,119.30C116.77,117.03 117.42,112.37 117.90,110.70C118.38,109.03 118.83,108.47 119.30,109.30C119.77,110.13 120.35,113.80 120.70,115.70C121.05,117.60 121.03,120.58 121.40,120.70C121.77,120.82 122.42,118.53 122.90,116.40C123.38,114.27 123.83,109.80 124.30,107.90C124.77,106.00 125.23,104.77 125.70,105.00C126.17,105.23 126.73,106.80 127.10,109.30C127.47,111.80 127.65,121.07 127.90,120.00C128.15,118.93 128.13,107.67 128.60,102.90C129.07,98.13 129.87,94.03 130.70,91.40C131.53,88.77 132.77,87.10 133.60,87.10C134.43,87.10 134.98,89.25 135.70,91.40C136.42,93.55 137.30,96.67 137.90,100.00C138.50,103.33 138.88,106.63 139.30,111.40C139.72,116.17 139.97,128.12 140.40,128.60C140.83,129.08 141.37,118.12 141.90,114.30C142.43,110.48 143.08,106.65 143.60,105.70C144.12,104.75 144.53,106.22 145.00,108.60C145.47,110.98 146.05,117.15 146.40,120.00C146.75,122.85 146.73,127.37 147.10,125.70C147.47,124.03 148.00,114.05 148.60,110.00C149.20,105.95 150.12,101.88 150.70,101.40C151.28,100.92 151.73,104.00 152.10,107.10C152.47,110.20 152.53,120.70 152.90,120.00C153.27,119.30 153.72,107.18 154.30,102.90C154.88,98.62 155.80,95.27 156.40,94.30C157.00,93.33 157.47,94.72 157.90,97.10C158.33,99.48 158.65,110.02 159.00,108.60C159.35,107.18 159.60,94.08 160.00,88.60C160.40,83.12 160.80,79.03 161.40,75.70C162.00,72.37 162.88,70.15 163.60,68.60C164.32,67.05 165.03,66.17 165.70,66.40C166.37,66.63 167.00,67.97 167.60,70.00C168.20,72.03 168.78,75.75 169.30,78.60C169.82,81.45 170.33,87.53 170.70,87.10C171.07,86.67 171.13,80.28 171.50,76.00C171.87,71.72 172.48,65.97 172.90,61.40C173.32,56.83 173.72,51.68 174.00,48.60C174.28,45.52 174.37,43.00 174.60,42.90C174.83,42.80 175.10,45.38 175.40,48.00C175.70,50.62 176.12,54.70 176.40,58.60C176.68,62.50 176.85,67.35 177.10,71.40C177.35,75.45 177.60,79.80 177.90,82.90C178.20,86.00 178.55,87.63 178.90,90.00C179.25,92.37 179.58,96.62 180.00,97.10C180.42,97.58 180.80,91.93 181.40,92.90C182.00,93.87 183.00,98.87 183.60,102.90C184.20,106.93 184.53,117.58 185.00,117.10C185.47,116.62 185.92,103.33 186.40,100.00C186.88,96.67 187.42,96.38 187.90,97.10C188.38,97.82 188.83,100.48 189.30,104.30C189.77,108.12 190.23,121.20 190.70,120.00C191.17,118.80 191.62,103.05 192.10,97.10C192.58,91.15 193.05,86.67 193.60,84.30C194.15,81.93 194.82,82.67 195.40,82.90C195.98,83.13 196.57,83.80 197.10,85.70C197.63,87.60 198.12,90.73 198.60,94.30C199.08,97.87 199.65,101.87 200.00,107.10C200.35,112.33 200.35,124.98 200.70,125.70C201.05,126.42 201.50,114.50 202.10,111.40C202.70,108.30 203.70,106.15 204.30,107.10C204.90,108.05 205.27,114.00 205.70,117.10C206.13,120.20 206.47,126.17 206.90,125.70C207.33,125.23 207.67,115.60 208.30,114.30C208.93,113.00 210.07,115.52 210.70,117.90C211.33,120.28 211.50,128.48 212.10,128.60C212.70,128.72 213.58,119.55 214.30,118.60C215.02,117.65 215.93,121.00 216.40,122.90C216.87,124.80 216.62,129.77 217.10,130.00C217.58,130.23 218.70,124.90 219.30,124.30C219.90,123.70 220.35,125.33 220.70,126.40C221.05,127.47 221.17,129.15 221.40,130.70C221.63,132.25 221.93,133.67 222.10,135.70C222.27,137.73 222.27,140.28 222.40,142.90C222.53,145.52 222.70,152.60 222.90,151.40C223.10,150.20 223.37,140.45 223.60,135.70C223.83,130.95 223.95,126.12 224.30,122.90C224.65,119.68 225.10,117.60 225.70,116.40C226.30,115.20 227.18,115.10 227.90,115.70C228.62,116.30 229.17,118.57 230.00,120.00C230.83,121.43 231.83,123.35 232.90,124.30C233.97,125.25 235.22,125.35 236.40,125.70C237.58,126.05 238.80,126.28 240.00,126.40C241.20,126.52 242.65,126.15 243.60,126.40C244.55,126.65 245.12,127.42 245.70,127.90C246.28,128.38 246.62,129.55 247.10,129.30C247.58,129.05 248.00,126.88 248.60,126.40C249.20,125.92 250.12,125.80 250.70,126.40C251.28,127.00 251.62,130.58 252.10,130.00C252.58,129.42 253.12,125.28 253.60,122.90C254.08,120.52 254.42,116.78 255.00,115.70C255.58,114.62 256.50,115.45 257.10,116.40C257.70,117.35 258.12,119.37 258.60,121.40C259.08,123.43 259.65,126.22 260.00,128.60C260.35,130.98 260.50,132.97 260.70,135.70C260.90,138.43 261.08,141.90 261.20,145.00C261.32,148.10 261.23,154.80 261.40,154.30C261.57,153.80 261.95,144.78 262.20,142.00C262.45,139.22 262.42,139.20 262.90,137.60C263.38,136.00 264.30,132.40 265.10,132.40C265.90,132.40 266.83,137.60 267.70,137.60C268.57,137.60 269.43,132.68 270.30,132.40C271.17,132.12 272.05,135.75 272.90,135.90C273.75,136.05 274.55,133.02 275.40,133.30C276.25,133.58 277.13,137.60 278.00,137.60C278.87,137.60 279.75,133.02 280.60,133.30C281.45,133.58 282.53,137.17 283.10,139.30C283.67,141.43 283.62,147.53 284.00,146.10C284.38,144.67 284.97,134.40 285.40,130.70C285.83,127.00 286.12,125.75 286.60,123.90C287.08,122.05 287.65,119.90 288.30,119.60C288.95,119.30 289.93,120.25 290.50,122.10C291.07,123.95 291.30,127.83 291.70,130.70C292.10,133.57 292.33,138.73 292.90,139.30C293.47,139.87 294.30,134.67 295.10,134.10C295.90,133.53 296.70,135.47 297.70,135.90C298.70,136.33 299.95,136.28 301.10,136.70C302.25,137.12 303.45,138.25 304.60,138.40C305.75,138.55 306.87,137.32 308.00,137.60C309.13,137.88 310.40,139.97 311.40,140.10C312.40,140.23 313.15,138.58 314.00,138.40C314.85,138.22 316.08,138.90 316.50,139.00" fill="none" stroke="#000" stroke-width="1.9" stroke-dasharray="0 3.4" stroke-linecap="round"/>
<path d="M32.00,104.35 L32.66,106.21 L33.50,107.00 L35.00,108.04 L35.55,105.80 L36.19,105.21 L36.85,104.20 L37.50,103.76 L38.34,104.41 L39.19,102.18 L40.00,102.98 L41.12,102.64 L42.20,103.75 L43.26,104.72 L44.30,106.61 L45.00,107.09 L45.69,106.75 L46.40,107.99 L46.93,107.03 L47.46,107.76 L48.01,106.38 L48.60,105.83 L49.12,106.24 L49.67,106.89 L50.24,108.50 L50.82,108.97 L51.40,107.94 L52.12,109.14 L52.85,107.16 L53.58,106.86 L54.30,105.87 L55.00,105.96 L55.70,106.78 L56.40,107.96 L57.10,108.10 L57.82,107.18 L58.54,107.84 L59.27,106.83 L60.00,106.48 L61.00,105.74 L61.99,105.58 L62.90,106.10 L64.00,105.99 L65.00,107.38 L65.70,106.31 L66.39,104.72 L67.10,103.82 L68.24,104.26 L69.30,103.21 L69.51,102.94 L69.69,102.41 L69.85,101.17 L70.00,99.77 L70.15,99.31 L70.31,97.87 L70.49,96.88 L70.70,95.91 L70.97,95.17 L71.27,93.64 L71.59,93.51 L71.92,92.98 L72.26,91.16 L72.58,90.92 L72.90,90.69 L74.00,88.74 L75.00,89.43 L75.74,91.23 L76.40,92.64 L76.68,93.16 L76.96,93.41 L77.25,94.92 L77.56,96.73 L77.90,97.72 L78.40,98.72 L78.96,98.87 L79.51,100.80 L80.00,100.50 L80.69,99.95 L81.40,98.02 L81.79,99.93 L82.23,100.40 L82.69,101.80 L83.15,101.98 L83.60,103.09 L84.13,102.62 L84.65,101.56 L85.17,99.96 L85.70,99.66 L86.80,98.20 L87.90,98.27 L88.33,98.73 L88.75,100.63 L89.16,100.89 L89.58,102.03 L90.00,102.21 L90.52,102.73 L91.04,101.55 L91.57,100.30 L92.10,98.56 L93.20,98.19 L94.30,97.65 L95.35,98.09 L96.40,98.50 L96.95,99.61 L97.50,97.38 L98.05,96.60 L98.60,95.33 L98.90,95.10 L99.20,93.42 L99.50,93.15 L99.80,92.03 L100.10,91.80 L100.40,89.49 L100.70,89.04 L100.97,88.40 L101.25,88.20 L101.54,86.49 L101.82,85.43 L102.10,84.78 L102.38,83.28 L102.64,82.05 L102.90,82.10 L103.53,81.32 L104.12,80.09 L104.70,78.91 L105.27,79.80 L105.84,80.81 L106.40,81.01 L106.68,82.26 L106.96,82.72 L107.24,83.48 L107.52,84.56 L107.81,85.51 L108.10,86.86 L108.30,87.21 L108.50,88.79 L108.71,89.39 L108.92,91.58 L109.13,92.41 L109.34,92.45 L109.56,94.51 L109.78,94.18 L110.00,94.97 L110.34,94.91 L110.68,93.73 L111.03,92.48 L111.39,91.46 L111.74,89.94 L112.10,90.58 L112.65,89.57 L113.20,91.52 L113.75,91.60 L114.30,92.59 L115.00,93.77 L115.70,94.16 L116.40,94.41 L116.77,94.23 L117.16,93.43 L117.54,92.97 L117.92,91.95 L118.28,89.36 L118.60,89.36 L119.35,87.43 L120.00,88.39 L120.33,88.35 L120.65,90.50 L120.99,91.08 L121.40,90.80 L121.72,90.23 L122.08,89.85 L122.46,89.84 L122.84,87.61 L123.23,87.13 L123.60,86.19 L124.30,85.06 L125.00,85.01 L125.70,83.84 L126.43,85.72 L127.17,87.25 L127.90,87.80 L128.08,86.70 L128.26,86.71 L128.43,85.16 L128.61,84.47 L128.78,83.54 L128.96,82.82 L129.13,81.82 L129.30,79.48 L129.48,78.46 L129.65,78.10 L129.83,77.66 L130.00,76.45 L130.35,74.80 L130.70,74.74 L131.04,72.69 L131.39,71.49 L131.74,70.67 L132.10,69.95 L132.83,69.94 L133.57,68.23 L134.30,68.95 L135.00,69.39 L135.70,70.27 L136.40,71.19 L136.67,71.20 L136.94,72.22 L137.20,73.34 L137.47,74.02 L137.75,74.28 L138.03,76.06 L138.31,76.11 L138.60,77.59 L138.78,79.52 L138.97,79.65 L139.16,80.40 L139.35,82.37 L139.54,83.03 L139.73,83.51 L139.93,84.72 L140.12,86.19 L140.32,87.32 L140.52,89.17 L140.71,88.79 L140.91,90.27 L141.10,90.57 L141.38,89.81 L141.66,90.18 L141.95,88.89 L142.23,87.28 L142.52,85.63 L142.80,84.66 L143.07,84.20 L143.34,82.70 L143.60,81.61 L144.34,81.83 L145.04,83.05 L145.70,83.81 L146.13,85.50 L146.52,86.03 L146.92,88.34 L147.40,87.39 L147.65,86.79 L147.93,86.76 L148.22,85.26 L148.52,84.98 L148.83,83.10 L149.14,81.91 L149.44,81.31 L149.73,79.43 L150.00,79.69 L151.12,79.56 L152.10,80.59 L152.85,83.20 L153.60,82.14 L153.79,82.98 L153.99,81.09 L154.20,81.28 L154.42,79.11 L154.64,77.81 L154.86,77.36 L155.08,76.91 L155.30,74.80 L155.50,74.27 L155.70,73.77 L156.29,71.85 L156.83,71.76 L157.40,70.62 L158.33,71.85 L159.30,71.82 L159.47,70.62 L159.64,69.77 L159.82,68.72 L160.00,68.89 L160.18,67.51 L160.36,67.29 L160.54,65.98 L160.71,63.91 L160.89,64.18 L161.07,63.21 L161.23,62.08 L161.40,61.23 L161.59,59.98 L161.77,59.02 L161.95,57.91 L162.13,56.77 L162.30,55.25 L162.47,54.10 L162.65,54.14 L162.83,53.09 L163.01,51.46 L163.20,51.73 L163.70,50.32 L164.23,49.20 L164.77,48.99 L165.30,48.80 L166.38,48.42 L167.40,49.79 L167.76,50.39 L168.10,51.26 L168.43,52.16 L168.76,53.35 L169.10,54.28 L169.36,55.34 L169.63,56.25 L169.91,57.50 L170.18,58.70 L170.44,59.60 L170.68,60.22 L170.90,60.47 L171.15,60.40 L171.36,59.62 L171.55,58.60 L171.72,57.31 L171.90,56.15 L172.04,55.16 L172.17,54.29 L172.30,53.43 L172.43,52.53 L172.56,51.35 L172.68,50.37 L172.80,49.29 L172.89,48.49 L172.97,47.57 L173.05,46.83 L173.12,45.64 L173.20,44.89 L173.27,43.72 L173.35,42.74 L173.42,42.04 L173.50,40.88 L173.59,39.91 L173.68,38.97 L173.78,38.03 L173.87,37.21 L173.96,36.26 L174.05,35.35 L174.13,34.43 L174.20,33.76 L174.27,32.55 L174.33,31.56 L174.39,30.62 L174.44,29.71 L174.49,28.69 L174.54,27.83 L174.60,27.06 L174.75,25.58 L174.91,24.48 L175.10,23.70 L175.44,24.10 L175.80,25.54 L176.01,26.49 L176.21,27.68 L176.40,29.08 L176.51,29.72 L176.61,30.73 L176.71,31.55 L176.81,32.55 L176.90,33.62 L176.95,34.42 L177.01,35.34 L177.06,36.21 L177.11,37.24 L177.15,38.00 L177.20,39.10 L177.25,39.90 L177.30,41.05 L177.34,41.80 L177.39,42.97 L177.43,43.99 L177.47,44.78 L177.51,45.94 L177.55,46.73 L177.60,47.69 L177.65,48.50 L177.70,49.38 L177.80,50.47 L177.91,51.63 L178.03,52.47 L178.16,53.30 L178.30,54.36 L178.44,55.16 L178.59,56.21 L178.75,57.26 L178.91,58.16 L179.06,59.34 L179.20,59.88 L179.51,61.14 L179.80,62.59 L179.92,63.41 L180.04,64.34 L180.17,65.45 L180.30,66.44 L180.45,67.28 L180.60,68.01 L181.70,66.82 L181.98,67.30 L182.26,68.37 L182.56,69.12 L182.90,70.26 L183.21,71.26 L183.54,72.24 L183.90,73.06 L184.25,74.19 L184.60,74.92 L185.17,75.99 L185.73,76.88 L186.30,77.58 L187.15,76.44 L188.00,75.83 L188.85,76.34 L189.70,77.18 L190.12,77.20 L190.55,76.12 L190.98,74.71 L191.40,72.93 L191.64,73.34 L191.87,71.64 L192.11,70.71 L192.34,69.38 L192.59,68.75 L192.84,67.54 L193.10,67.43 L193.78,65.62 L194.50,64.57 L195.20,64.45 L196.19,64.35 L197.10,65.76 L197.51,66.78 L197.88,67.52 L198.24,68.50 L198.60,69.93 L198.78,70.11 L198.97,70.91 L199.15,71.20 L199.33,72.21 L199.51,73.47 L199.68,74.53 L199.84,76.12 L200.00,75.67 L200.14,77.08 L200.28,78.66 L200.41,79.19 L200.53,80.78 L200.65,80.62 L200.77,82.49 L200.88,82.77 L201.00,83.71 L201.21,84.12 L201.41,85.69 L201.62,87.09 L201.90,87.48 L202.70,86.89 L203.60,86.28 L204.16,86.28 L204.73,88.36 L205.30,89.21 L205.65,90.65 L205.99,91.71 L206.35,92.61 L206.71,94.37 L207.10,93.71 L207.63,94.75 L208.21,92.36 L208.78,92.70 L209.30,91.54 L209.90,91.62 L210.44,93.28 L211.00,93.62 L211.46,94.56 L211.93,95.00 L212.41,97.16 L212.90,97.32 L213.41,96.15 L213.94,94.78 L214.47,94.07 L215.00,94.30 L215.71,94.66 L216.41,95.17 L217.10,95.66 L217.76,98.07 L218.39,98.23 L219.00,99.67 L219.58,98.91 L220.14,98.70 L220.70,96.54 L221.54,96.55 L222.40,96.05 L223.01,95.79 L223.64,98.01 L224.30,98.27 L224.98,98.37 L225.69,97.61 L226.40,95.97 L227.14,94.57 L227.89,93.63 L228.60,92.50 L229.22,93.16 L229.80,93.45 L230.40,95.35 L231.06,95.27 L231.73,97.06 L232.40,97.39 L233.34,98.93 L234.30,98.59 L235.33,98.19 L236.40,98.80 L237.50,99.65 L238.60,100.62 L239.65,99.89 L240.70,100.64 L241.43,98.88 L242.17,101.05 L242.90,101.77 L243.96,101.03 L245.00,101.13 L246.00,101.20 L247.00,101.76 L247.96,102.91 L249.10,102.97 L249.89,102.36 L250.80,100.62 L251.73,101.83 L252.60,100.63 L253.23,99.05 L253.83,99.44 L254.41,97.59 L254.97,97.04 L255.50,96.97 L256.66,97.59 L257.80,96.74 L258.24,98.29 L258.71,98.63 L259.19,100.82 L259.68,102.22 L260.15,101.62 L260.60,103.49 L261.84,103.39 L263.00,102.74 L264.05,103.21 L265.10,104.10 L266.29,104.53 L267.50,103.77 L268.61,102.67 L269.70,105.46 L270.84,105.34 L272.00,105.29 L273.15,105.30 L274.30,106.14 L275.45,106.42 L276.60,104.88 L277.79,104.84 L278.90,107.32 L280.60,106.64 L281.34,106.12 L282.30,108.46 L283.04,106.02 L283.93,106.18 L284.85,106.19 L285.70,105.54 L286.30,105.38 L286.86,102.43 L287.40,102.48 L287.94,102.49 L288.50,100.91 L289.44,101.67 L290.39,101.76 L291.40,103.48 L291.96,104.80 L292.57,103.97 L293.20,105.97 L293.81,105.78 L294.39,107.98 L294.90,108.11 L296.02,108.21 L297.00,107.51 L298.19,106.56 L299.40,107.52 L300.56,105.68 L301.70,107.20 L302.85,106.14 L304.00,107.62 L305.15,107.54 L306.30,106.12 L307.44,107.81 L308.60,107.18 L309.81,106.89 L311.00,107.17 L312.06,108.62 L313.10,108.29 L314.28,106.78 L315.40,106.88 L317.00,109.28" fill="none" stroke="#000" stroke-width="2.2" stroke-linejoin="round"/></g>
<rect x="31.9" y="1.2" width="285.70000000000005" height="296.7" fill="none" stroke="#000" stroke-width="1.4"/>
<line x1="33.15" y1="297.90" x2="33.15" y2="300.50" stroke="#000" stroke-width="1.1"/>
<line x1="33.15" y1="1.20" x2="33.15" y2="3.80" stroke="#000" stroke-width="1.1"/>
<line x1="61.54" y1="297.90" x2="61.54" y2="302.10" stroke="#000" stroke-width="1.1"/>
<line x1="61.54" y1="1.20" x2="61.54" y2="5.40" stroke="#000" stroke-width="1.1"/>
<line x1="89.93" y1="297.90" x2="89.93" y2="300.50" stroke="#000" stroke-width="1.1"/>
<line x1="89.93" y1="1.20" x2="89.93" y2="3.80" stroke="#000" stroke-width="1.1"/>
<line x1="118.32" y1="297.90" x2="118.32" y2="302.10" stroke="#000" stroke-width="1.1"/>
<line x1="118.32" y1="1.20" x2="118.32" y2="5.40" stroke="#000" stroke-width="1.1"/>
<line x1="146.71" y1="297.90" x2="146.71" y2="300.50" stroke="#000" stroke-width="1.1"/>
<line x1="146.71" y1="1.20" x2="146.71" y2="3.80" stroke="#000" stroke-width="1.1"/>
<line x1="175.10" y1="297.90" x2="175.10" y2="302.10" stroke="#000" stroke-width="1.1"/>
<line x1="175.10" y1="1.20" x2="175.10" y2="5.40" stroke="#000" stroke-width="1.1"/>
<line x1="203.49" y1="297.90" x2="203.49" y2="300.50" stroke="#000" stroke-width="1.1"/>
<line x1="203.49" y1="1.20" x2="203.49" y2="3.80" stroke="#000" stroke-width="1.1"/>
<line x1="231.88" y1="297.90" x2="231.88" y2="302.10" stroke="#000" stroke-width="1.1"/>
<line x1="231.88" y1="1.20" x2="231.88" y2="5.40" stroke="#000" stroke-width="1.1"/>
<line x1="260.27" y1="297.90" x2="260.27" y2="300.50" stroke="#000" stroke-width="1.1"/>
<line x1="260.27" y1="1.20" x2="260.27" y2="3.80" stroke="#000" stroke-width="1.1"/>
<line x1="288.66" y1="297.90" x2="288.66" y2="302.10" stroke="#000" stroke-width="1.1"/>
<line x1="288.66" y1="1.20" x2="288.66" y2="5.40" stroke="#000" stroke-width="1.1"/>
<line x1="317.05" y1="297.90" x2="317.05" y2="300.50" stroke="#000" stroke-width="1.1"/>
<line x1="317.05" y1="1.20" x2="317.05" y2="3.80" stroke="#000" stroke-width="1.1"/>
<line x1="27.50" y1="297.90" x2="31.90" y2="297.90" stroke="#000" stroke-width="1.2"/>
<line x1="317.60" y1="297.90" x2="313.20" y2="297.90" stroke="#000" stroke-width="1.2"/>
<line x1="29.10" y1="292.93" x2="31.90" y2="292.93" stroke="#000" stroke-width="1.0"/>
<line x1="317.60" y1="292.93" x2="314.80" y2="292.93" stroke="#000" stroke-width="1.0"/>
<line x1="29.10" y1="290.03" x2="31.90" y2="290.03" stroke="#000" stroke-width="1.0"/>
<line x1="317.60" y1="290.03" x2="314.80" y2="290.03" stroke="#000" stroke-width="1.0"/>
<line x1="29.10" y1="287.97" x2="31.90" y2="287.97" stroke="#000" stroke-width="1.0"/>
<line x1="317.60" y1="287.97" x2="314.80" y2="287.97" stroke="#000" stroke-width="1.0"/>
<line x1="29.10" y1="286.37" x2="31.90" y2="286.37" stroke="#000" stroke-width="1.0"/>
<line x1="317.60" y1="286.37" x2="314.80" y2="286.37" stroke="#000" stroke-width="1.0"/>
<line x1="29.10" y1="285.06" x2="31.90" y2="285.06" stroke="#000" stroke-width="1.0"/>
<line x1="317.60" y1="285.06" x2="314.80" y2="285.06" stroke="#000" stroke-width="1.0"/>
<line x1="29.10" y1="283.96" x2="31.90" y2="283.96" stroke="#000" stroke-width="1.0"/>
<line x1="317.60" y1="283.96" x2="314.80" y2="283.96" stroke="#000" stroke-width="1.0"/>
<line x1="29.10" y1="283.00" x2="31.90" y2="283.00" stroke="#000" stroke-width="1.0"/>
<line x1="317.60" y1="283.00" x2="314.80" y2="283.00" stroke="#000" stroke-width="1.0"/>
<line x1="29.10" y1="282.15" x2="31.90" y2="282.15" stroke="#000" stroke-width="1.0"/>
<line x1="317.60" y1="282.15" x2="314.80" y2="282.15" stroke="#000" stroke-width="1.0"/>
<line x1="27.50" y1="281.40" x2="31.90" y2="281.40" stroke="#000" stroke-width="1.2"/>
<line x1="317.60" y1="281.40" x2="313.20" y2="281.40" stroke="#000" stroke-width="1.2"/>
<line x1="29.10" y1="276.43" x2="31.90" y2="276.43" stroke="#000" stroke-width="1.0"/>
<line x1="317.60" y1="276.43" x2="314.80" y2="276.43" stroke="#000" stroke-width="1.0"/>
<line x1="29.10" y1="273.53" x2="31.90" y2="273.53" stroke="#000" stroke-width="1.0"/>
<line x1="317.60" y1="273.53" x2="314.80" y2="273.53" stroke="#000" stroke-width="1.0"/>
<line x1="29.10" y1="271.47" x2="31.90" y2="271.47" stroke="#000" stroke-width="1.0"/>
<line x1="317.60" y1="271.47" x2="314.80" y2="271.47" stroke="#000" stroke-width="1.0"/>
<line x1="29.10" y1="269.87" x2="31.90" y2="269.87" stroke="#000" stroke-width="1.0"/>
<line x1="317.60" y1="269.87" x2="314.80" y2="269.87" stroke="#000" stroke-width="1.0"/>
<line x1="29.10" y1="268.56" x2="31.90" y2="268.56" stroke="#000" stroke-width="1.0"/>
<line x1="317.60" y1="268.56" x2="314.80" y2="268.56" stroke="#000" stroke-width="1.0"/>
<line x1="29.10" y1="267.46" x2="31.90" y2="267.46" stroke="#000" stroke-width="1.0"/>
<line x1="317.60" y1="267.46" x2="314.80" y2="267.46" stroke="#000" stroke-width="1.0"/>
<line x1="29.10" y1="266.50" x2="31.90" y2="266.50" stroke="#000" stroke-width="1.0"/>
<line x1="317.60" y1="266.50" x2="314.80" y2="266.50" stroke="#000" stroke-width="1.0"/>
<line x1="29.10" y1="265.65" x2="31.90" y2="265.65" stroke="#000" stroke-width="1.0"/>
<line x1="317.60" y1="265.65" x2="314.80" y2="265.65" stroke="#000" stroke-width="1.0"/>
<line x1="27.50" y1="264.90" x2="31.90" y2="264.90" stroke="#000" stroke-width="1.2"/>
<line x1="317.60" y1="264.90" x2="313.20" y2="264.90" stroke="#000" stroke-width="1.2"/>
<line x1="29.10" y1="259.93" x2="31.90" y2="259.93" stroke="#000" stroke-width="1.0"/>
<line x1="317.60" y1="259.93" x2="314.80" y2="259.93" stroke="#000" stroke-width="1.0"/>
<line x1="29.10" y1="257.03" x2="31.90" y2="257.03" stroke="#000" stroke-width="1.0"/>
<line x1="317.60" y1="257.03" x2="314.80" y2="257.03" stroke="#000" stroke-width="1.0"/>
<line x1="29.10" y1="254.97" x2="31.90" y2="254.97" stroke="#000" stroke-width="1.0"/>
<line x1="317.60" y1="254.97" x2="314.80" y2="254.97" stroke="#000" stroke-width="1.0"/>
<line x1="29.10" y1="253.37" x2="31.90" y2="253.37" stroke="#000" stroke-width="1.0"/>
<line x1="317.60" y1="253.37" x2="314.80" y2="253.37" stroke="#000" stroke-width="1.0"/>
<line x1="29.10" y1="252.06" x2="31.90" y2="252.06" stroke="#000" stroke-width="1.0"/>
<line x1="317.60" y1="252.06" x2="314.80" y2="252.06" stroke="#000" stroke-width="1.0"/>
<line x1="29.10" y1="250.96" x2="31.90" y2="250.96" stroke="#000" stroke-width="1.0"/>
<line x1="317.60" y1="250.96" x2="314.80" y2="250.96" stroke="#000" stroke-width="1.0"/>
<line x1="29.10" y1="250.00" x2="31.90" y2="250.00" stroke="#000" stroke-width="1.0"/>
<line x1="317.60" y1="250.00" x2="314.80" y2="250.00" stroke="#000" stroke-width="1.0"/>
<line x1="29.10" y1="249.15" x2="31.90" y2="249.15" stroke="#000" stroke-width="1.0"/>
<line x1="317.60" y1="249.15" x2="314.80" y2="249.15" stroke="#000" stroke-width="1.0"/>
<line x1="27.50" y1="248.40" x2="31.90" y2="248.40" stroke="#000" stroke-width="1.2"/>
<line x1="317.60" y1="248.40" x2="313.20" y2="248.40" stroke="#000" stroke-width="1.2"/>
<line x1="29.10" y1="243.43" x2="31.90" y2="243.43" stroke="#000" stroke-width="1.0"/>
<line x1="317.60" y1="243.43" x2="314.80" y2="243.43" stroke="#000" stroke-width="1.0"/>
<line x1="29.10" y1="240.53" x2="31.90" y2="240.53" stroke="#000" stroke-width="1.0"/>
<line x1="317.60" y1="240.53" x2="314.80" y2="240.53" stroke="#000" stroke-width="1.0"/>
<line x1="29.10" y1="238.47" x2="31.90" y2="238.47" stroke="#000" stroke-width="1.0"/>
<line x1="317.60" y1="238.47" x2="314.80" y2="238.47" stroke="#000" stroke-width="1.0"/>
<line x1="29.10" y1="236.87" x2="31.90" y2="236.87" stroke="#000" stroke-width="1.0"/>
<line x1="317.60" y1="236.87" x2="314.80" y2="236.87" stroke="#000" stroke-width="1.0"/>
<line x1="29.10" y1="235.56" x2="31.90" y2="235.56" stroke="#000" stroke-width="1.0"/>
<line x1="317.60" y1="235.56" x2="314.80" y2="235.56" stroke="#000" stroke-width="1.0"/>
<line x1="29.10" y1="234.46" x2="31.90" y2="234.46" stroke="#000" stroke-width="1.0"/>
<line x1="317.60" y1="234.46" x2="314.80" y2="234.46" stroke="#000" stroke-width="1.0"/>
<line x1="29.10" y1="233.50" x2="31.90" y2="233.50" stroke="#000" stroke-width="1.0"/>
<line x1="317.60" y1="233.50" x2="314.80" y2="233.50" stroke="#000" stroke-width="1.0"/>
<line x1="29.10" y1="232.65" x2="31.90" y2="232.65" stroke="#000" stroke-width="1.0"/>
<line x1="317.60" y1="232.65" x2="314.80" y2="232.65" stroke="#000" stroke-width="1.0"/>
<line x1="27.50" y1="231.90" x2="31.90" y2="231.90" stroke="#000" stroke-width="1.2"/>
<line x1="317.60" y1="231.90" x2="313.20" y2="231.90" stroke="#000" stroke-width="1.2"/>
<line x1="29.10" y1="226.93" x2="31.90" y2="226.93" stroke="#000" stroke-width="1.0"/>
<line x1="317.60" y1="226.93" x2="314.80" y2="226.93" stroke="#000" stroke-width="1.0"/>
<line x1="29.10" y1="224.03" x2="31.90" y2="224.03" stroke="#000" stroke-width="1.0"/>
<line x1="317.60" y1="224.03" x2="314.80" y2="224.03" stroke="#000" stroke-width="1.0"/>
<line x1="29.10" y1="221.97" x2="31.90" y2="221.97" stroke="#000" stroke-width="1.0"/>
<line x1="317.60" y1="221.97" x2="314.80" y2="221.97" stroke="#000" stroke-width="1.0"/>
<line x1="29.10" y1="220.37" x2="31.90" y2="220.37" stroke="#000" stroke-width="1.0"/>
<line x1="317.60" y1="220.37" x2="314.80" y2="220.37" stroke="#000" stroke-width="1.0"/>
<line x1="29.10" y1="219.06" x2="31.90" y2="219.06" stroke="#000" stroke-width="1.0"/>
<line x1="317.60" y1="219.06" x2="314.80" y2="219.06" stroke="#000" stroke-width="1.0"/>
<line x1="29.10" y1="217.96" x2="31.90" y2="217.96" stroke="#000" stroke-width="1.0"/>
<line x1="317.60" y1="217.96" x2="314.80" y2="217.96" stroke="#000" stroke-width="1.0"/>
<line x1="29.10" y1="217.00" x2="31.90" y2="217.00" stroke="#000" stroke-width="1.0"/>
<line x1="317.60" y1="217.00" x2="314.80" y2="217.00" stroke="#000" stroke-width="1.0"/>
<line x1="29.10" y1="216.15" x2="31.90" y2="216.15" stroke="#000" stroke-width="1.0"/>
<line x1="317.60" y1="216.15" x2="314.80" y2="216.15" stroke="#000" stroke-width="1.0"/>
<line x1="27.50" y1="215.40" x2="31.90" y2="215.40" stroke="#000" stroke-width="1.2"/>
<line x1="317.60" y1="215.40" x2="313.20" y2="215.40" stroke="#000" stroke-width="1.2"/>
<line x1="29.10" y1="210.43" x2="31.90" y2="210.43" stroke="#000" stroke-width="1.0"/>
<line x1="317.60" y1="210.43" x2="314.80" y2="210.43" stroke="#000" stroke-width="1.0"/>
<line x1="29.10" y1="207.53" x2="31.90" y2="207.53" stroke="#000" stroke-width="1.0"/>
<line x1="317.60" y1="207.53" x2="314.80" y2="207.53" stroke="#000" stroke-width="1.0"/>
<line x1="29.10" y1="205.47" x2="31.90" y2="205.47" stroke="#000" stroke-width="1.0"/>
<line x1="317.60" y1="205.47" x2="314.80" y2="205.47" stroke="#000" stroke-width="1.0"/>
<line x1="29.10" y1="203.87" x2="31.90" y2="203.87" stroke="#000" stroke-width="1.0"/>
<line x1="317.60" y1="203.87" x2="314.80" y2="203.87" stroke="#000" stroke-width="1.0"/>
<line x1="29.10" y1="202.56" x2="31.90" y2="202.56" stroke="#000" stroke-width="1.0"/>
<line x1="317.60" y1="202.56" x2="314.80" y2="202.56" stroke="#000" stroke-width="1.0"/>
<line x1="29.10" y1="201.46" x2="31.90" y2="201.46" stroke="#000" stroke-width="1.0"/>
<line x1="317.60" y1="201.46" x2="314.80" y2="201.46" stroke="#000" stroke-width="1.0"/>
<line x1="29.10" y1="200.50" x2="31.90" y2="200.50" stroke="#000" stroke-width="1.0"/>
<line x1="317.60" y1="200.50" x2="314.80" y2="200.50" stroke="#000" stroke-width="1.0"/>
<line x1="29.10" y1="199.65" x2="31.90" y2="199.65" stroke="#000" stroke-width="1.0"/>
<line x1="317.60" y1="199.65" x2="314.80" y2="199.65" stroke="#000" stroke-width="1.0"/>
<line x1="27.50" y1="198.90" x2="31.90" y2="198.90" stroke="#000" stroke-width="1.2"/>
<line x1="317.60" y1="198.90" x2="313.20" y2="198.90" stroke="#000" stroke-width="1.2"/>
<line x1="29.10" y1="193.93" x2="31.90" y2="193.93" stroke="#000" stroke-width="1.0"/>
<line x1="317.60" y1="193.93" x2="314.80" y2="193.93" stroke="#000" stroke-width="1.0"/>
<line x1="29.10" y1="191.03" x2="31.90" y2="191.03" stroke="#000" stroke-width="1.0"/>
<line x1="317.60" y1="191.03" x2="314.80" y2="191.03" stroke="#000" stroke-width="1.0"/>
<line x1="29.10" y1="188.97" x2="31.90" y2="188.97" stroke="#000" stroke-width="1.0"/>
<line x1="317.60" y1="188.97" x2="314.80" y2="188.97" stroke="#000" stroke-width="1.0"/>
<line x1="29.10" y1="187.37" x2="31.90" y2="187.37" stroke="#000" stroke-width="1.0"/>
<line x1="317.60" y1="187.37" x2="314.80" y2="187.37" stroke="#000" stroke-width="1.0"/>
<line x1="29.10" y1="186.06" x2="31.90" y2="186.06" stroke="#000" stroke-width="1.0"/>
<line x1="317.60" y1="186.06" x2="314.80" y2="186.06" stroke="#000" stroke-width="1.0"/>
<line x1="29.10" y1="184.96" x2="31.90" y2="184.96" stroke="#000" stroke-width="1.0"/>
<line x1="317.60" y1="184.96" x2="314.80" y2="184.96" stroke="#000" stroke-width="1.0"/>
<line x1="29.10" y1="184.00" x2="31.90" y2="184.00" stroke="#000" stroke-width="1.0"/>
<line x1="317.60" y1="184.00" x2="314.80" y2="184.00" stroke="#000" stroke-width="1.0"/>
<line x1="29.10" y1="183.15" x2="31.90" y2="183.15" stroke="#000" stroke-width="1.0"/>
<line x1="317.60" y1="183.15" x2="314.80" y2="183.15" stroke="#000" stroke-width="1.0"/>
<line x1="27.50" y1="182.40" x2="31.90" y2="182.40" stroke="#000" stroke-width="1.2"/>
<line x1="317.60" y1="182.40" x2="313.20" y2="182.40" stroke="#000" stroke-width="1.2"/>
<line x1="29.10" y1="177.43" x2="31.90" y2="177.43" stroke="#000" stroke-width="1.0"/>
<line x1="317.60" y1="177.43" x2="314.80" y2="177.43" stroke="#000" stroke-width="1.0"/>
<line x1="29.10" y1="174.53" x2="31.90" y2="174.53" stroke="#000" stroke-width="1.0"/>
<line x1="317.60" y1="174.53" x2="314.80" y2="174.53" stroke="#000" stroke-width="1.0"/>
<line x1="29.10" y1="172.47" x2="31.90" y2="172.47" stroke="#000" stroke-width="1.0"/>
<line x1="317.60" y1="172.47" x2="314.80" y2="172.47" stroke="#000" stroke-width="1.0"/>
<line x1="29.10" y1="170.87" x2="31.90" y2="170.87" stroke="#000" stroke-width="1.0"/>
<line x1="317.60" y1="170.87" x2="314.80" y2="170.87" stroke="#000" stroke-width="1.0"/>
<line x1="29.10" y1="169.56" x2="31.90" y2="169.56" stroke="#000" stroke-width="1.0"/>
<line x1="317.60" y1="169.56" x2="314.80" y2="169.56" stroke="#000" stroke-width="1.0"/>
<line x1="29.10" y1="168.46" x2="31.90" y2="168.46" stroke="#000" stroke-width="1.0"/>
<line x1="317.60" y1="168.46" x2="314.80" y2="168.46" stroke="#000" stroke-width="1.0"/>
<line x1="29.10" y1="167.50" x2="31.90" y2="167.50" stroke="#000" stroke-width="1.0"/>
<line x1="317.60" y1="167.50" x2="314.80" y2="167.50" stroke="#000" stroke-width="1.0"/>
<line x1="29.10" y1="166.65" x2="31.90" y2="166.65" stroke="#000" stroke-width="1.0"/>
<line x1="317.60" y1="166.65" x2="314.80" y2="166.65" stroke="#000" stroke-width="1.0"/>
<line x1="27.50" y1="165.90" x2="31.90" y2="165.90" stroke="#000" stroke-width="1.2"/>
<line x1="317.60" y1="165.90" x2="313.20" y2="165.90" stroke="#000" stroke-width="1.2"/>
<line x1="29.10" y1="160.93" x2="31.90" y2="160.93" stroke="#000" stroke-width="1.0"/>
<line x1="317.60" y1="160.93" x2="314.80" y2="160.93" stroke="#000" stroke-width="1.0"/>
<line x1="29.10" y1="158.03" x2="31.90" y2="158.03" stroke="#000" stroke-width="1.0"/>
<line x1="317.60" y1="158.03" x2="314.80" y2="158.03" stroke="#000" stroke-width="1.0"/>
<line x1="29.10" y1="155.97" x2="31.90" y2="155.97" stroke="#000" stroke-width="1.0"/>
<line x1="317.60" y1="155.97" x2="314.80" y2="155.97" stroke="#000" stroke-width="1.0"/>
<line x1="29.10" y1="154.37" x2="31.90" y2="154.37" stroke="#000" stroke-width="1.0"/>
<line x1="317.60" y1="154.37" x2="314.80" y2="154.37" stroke="#000" stroke-width="1.0"/>
<line x1="29.10" y1="153.06" x2="31.90" y2="153.06" stroke="#000" stroke-width="1.0"/>
<line x1="317.60" y1="153.06" x2="314.80" y2="153.06" stroke="#000" stroke-width="1.0"/>
<line x1="29.10" y1="151.96" x2="31.90" y2="151.96" stroke="#000" stroke-width="1.0"/>
<line x1="317.60" y1="151.96" x2="314.80" y2="151.96" stroke="#000" stroke-width="1.0"/>
<line x1="29.10" y1="151.00" x2="31.90" y2="151.00" stroke="#000" stroke-width="1.0"/>
<line x1="317.60" y1="151.00" x2="314.80" y2="151.00" stroke="#000" stroke-width="1.0"/>
<line x1="29.10" y1="150.15" x2="31.90" y2="150.15" stroke="#000" stroke-width="1.0"/>
<line x1="317.60" y1="150.15" x2="314.80" y2="150.15" stroke="#000" stroke-width="1.0"/>
<line x1="27.50" y1="149.40" x2="31.90" y2="149.40" stroke="#000" stroke-width="1.2"/>
<line x1="317.60" y1="149.40" x2="313.20" y2="149.40" stroke="#000" stroke-width="1.2"/>
<line x1="29.10" y1="144.43" x2="31.90" y2="144.43" stroke="#000" stroke-width="1.0"/>
<line x1="317.60" y1="144.43" x2="314.80" y2="144.43" stroke="#000" stroke-width="1.0"/>
<line x1="29.10" y1="141.53" x2="31.90" y2="141.53" stroke="#000" stroke-width="1.0"/>
<line x1="317.60" y1="141.53" x2="314.80" y2="141.53" stroke="#000" stroke-width="1.0"/>
<line x1="29.10" y1="139.47" x2="31.90" y2="139.47" stroke="#000" stroke-width="1.0"/>
<line x1="317.60" y1="139.47" x2="314.80" y2="139.47" stroke="#000" stroke-width="1.0"/>
<line x1="29.10" y1="137.87" x2="31.90" y2="137.87" stroke="#000" stroke-width="1.0"/>
<line x1="317.60" y1="137.87" x2="314.80" y2="137.87" stroke="#000" stroke-width="1.0"/>
<line x1="29.10" y1="136.56" x2="31.90" y2="136.56" stroke="#000" stroke-width="1.0"/>
<line x1="317.60" y1="136.56" x2="314.80" y2="136.56" stroke="#000" stroke-width="1.0"/>
<line x1="29.10" y1="135.46" x2="31.90" y2="135.46" stroke="#000" stroke-width="1.0"/>
<line x1="317.60" y1="135.46" x2="314.80" y2="135.46" stroke="#000" stroke-width="1.0"/>
<line x1="29.10" y1="134.50" x2="31.90" y2="134.50" stroke="#000" stroke-width="1.0"/>
<line x1="317.60" y1="134.50" x2="314.80" y2="134.50" stroke="#000" stroke-width="1.0"/>
<line x1="29.10" y1="133.65" x2="31.90" y2="133.65" stroke="#000" stroke-width="1.0"/>
<line x1="317.60" y1="133.65" x2="314.80" y2="133.65" stroke="#000" stroke-width="1.0"/>
<line x1="27.50" y1="132.90" x2="31.90" y2="132.90" stroke="#000" stroke-width="1.2"/>
<line x1="317.60" y1="132.90" x2="313.20" y2="132.90" stroke="#000" stroke-width="1.2"/>
<line x1="29.10" y1="127.93" x2="31.90" y2="127.93" stroke="#000" stroke-width="1.0"/>
<line x1="317.60" y1="127.93" x2="314.80" y2="127.93" stroke="#000" stroke-width="1.0"/>
<line x1="29.10" y1="125.03" x2="31.90" y2="125.03" stroke="#000" stroke-width="1.0"/>
<line x1="317.60" y1="125.03" x2="314.80" y2="125.03" stroke="#000" stroke-width="1.0"/>
<line x1="29.10" y1="122.97" x2="31.90" y2="122.97" stroke="#000" stroke-width="1.0"/>
<line x1="317.60" y1="122.97" x2="314.80" y2="122.97" stroke="#000" stroke-width="1.0"/>
<line x1="29.10" y1="121.37" x2="31.90" y2="121.37" stroke="#000" stroke-width="1.0"/>
<line x1="317.60" y1="121.37" x2="314.80" y2="121.37" stroke="#000" stroke-width="1.0"/>
<line x1="29.10" y1="120.06" x2="31.90" y2="120.06" stroke="#000" stroke-width="1.0"/>
<line x1="317.60" y1="120.06" x2="314.80" y2="120.06" stroke="#000" stroke-width="1.0"/>
<line x1="29.10" y1="118.96" x2="31.90" y2="118.96" stroke="#000" stroke-width="1.0"/>
<line x1="317.60" y1="118.96" x2="314.80" y2="118.96" stroke="#000" stroke-width="1.0"/>
<line x1="29.10" y1="118.00" x2="31.90" y2="118.00" stroke="#000" stroke-width="1.0"/>
<line x1="317.60" y1="118.00" x2="314.80" y2="118.00" stroke="#000" stroke-width="1.0"/>
<line x1="29.10" y1="117.15" x2="31.90" y2="117.15" stroke="#000" stroke-width="1.0"/>
<line x1="317.60" y1="117.15" x2="314.80" y2="117.15" stroke="#000" stroke-width="1.0"/>
<line x1="27.50" y1="116.40" x2="31.90" y2="116.40" stroke="#000" stroke-width="1.2"/>
<line x1="317.60" y1="116.40" x2="313.20" y2="116.40" stroke="#000" stroke-width="1.2"/>
<line x1="29.10" y1="111.43" x2="31.90" y2="111.43" stroke="#000" stroke-width="1.0"/>
<line x1="317.60" y1="111.43" x2="314.80" y2="111.43" stroke="#000" stroke-width="1.0"/>
<line x1="29.10" y1="108.53" x2="31.90" y2="108.53" stroke="#000" stroke-width="1.0"/>
<line x1="317.60" y1="108.53" x2="314.80" y2="108.53" stroke="#000" stroke-width="1.0"/>
<line x1="29.10" y1="106.47" x2="31.90" y2="106.47" stroke="#000" stroke-width="1.0"/>
<line x1="317.60" y1="106.47" x2="314.80" y2="106.47" stroke="#000" stroke-width="1.0"/>
<line x1="29.10" y1="104.87" x2="31.90" y2="104.87" stroke="#000" stroke-width="1.0"/>
<line x1="317.60" y1="104.87" x2="314.80" y2="104.87" stroke="#000" stroke-width="1.0"/>
<line x1="29.10" y1="103.56" x2="31.90" y2="103.56" stroke="#000" stroke-width="1.0"/>
<line x1="317.60" y1="103.56" x2="314.80" y2="103.56" stroke="#000" stroke-width="1.0"/>
<line x1="29.10" y1="102.46" x2="31.90" y2="102.46" stroke="#000" stroke-width="1.0"/>
<line x1="317.60" y1="102.46" x2="314.80" y2="102.46" stroke="#000" stroke-width="1.0"/>
<line x1="29.10" y1="101.50" x2="31.90" y2="101.50" stroke="#000" stroke-width="1.0"/>
<line x1="317.60" y1="101.50" x2="314.80" y2="101.50" stroke="#000" stroke-width="1.0"/>
<line x1="29.10" y1="100.65" x2="31.90" y2="100.65" stroke="#000" stroke-width="1.0"/>
<line x1="317.60" y1="100.65" x2="314.80" y2="100.65" stroke="#000" stroke-width="1.0"/>
<line x1="27.50" y1="99.90" x2="31.90" y2="99.90" stroke="#000" stroke-width="1.2"/>
<line x1="317.60" y1="99.90" x2="313.20" y2="99.90" stroke="#000" stroke-width="1.2"/>
<line x1="29.10" y1="94.93" x2="31.90" y2="94.93" stroke="#000" stroke-width="1.0"/>
<line x1="317.60" y1="94.93" x2="314.80" y2="94.93" stroke="#000" stroke-width="1.0"/>
<line x1="29.10" y1="92.03" x2="31.90" y2="92.03" stroke="#000" stroke-width="1.0"/>
<line x1="317.60" y1="92.03" x2="314.80" y2="92.03" stroke="#000" stroke-width="1.0"/>
<line x1="29.10" y1="89.97" x2="31.90" y2="89.97" stroke="#000" stroke-width="1.0"/>
<line x1="317.60" y1="89.97" x2="314.80" y2="89.97" stroke="#000" stroke-width="1.0"/>
<line x1="29.10" y1="88.37" x2="31.90" y2="88.37" stroke="#000" stroke-width="1.0"/>
<line x1="317.60" y1="88.37" x2="314.80" y2="88.37" stroke="#000" stroke-width="1.0"/>
<line x1="29.10" y1="87.06" x2="31.90" y2="87.06" stroke="#000" stroke-width="1.0"/>
<line x1="317.60" y1="87.06" x2="314.80" y2="87.06" stroke="#000" stroke-width="1.0"/>
<line x1="29.10" y1="85.96" x2="31.90" y2="85.96" stroke="#000" stroke-width="1.0"/>
<line x1="317.60" y1="85.96" x2="314.80" y2="85.96" stroke="#000" stroke-width="1.0"/>
<line x1="29.10" y1="85.00" x2="31.90" y2="85.00" stroke="#000" stroke-width="1.0"/>
<line x1="317.60" y1="85.00" x2="314.80" y2="85.00" stroke="#000" stroke-width="1.0"/>
<line x1="29.10" y1="84.15" x2="31.90" y2="84.15" stroke="#000" stroke-width="1.0"/>
<line x1="317.60" y1="84.15" x2="314.80" y2="84.15" stroke="#000" stroke-width="1.0"/>
<line x1="27.50" y1="83.40" x2="31.90" y2="83.40" stroke="#000" stroke-width="1.2"/>
<line x1="317.60" y1="83.40" x2="313.20" y2="83.40" stroke="#000" stroke-width="1.2"/>
<line x1="29.10" y1="78.43" x2="31.90" y2="78.43" stroke="#000" stroke-width="1.0"/>
<line x1="317.60" y1="78.43" x2="314.80" y2="78.43" stroke="#000" stroke-width="1.0"/>
<line x1="29.10" y1="75.53" x2="31.90" y2="75.53" stroke="#000" stroke-width="1.0"/>
<line x1="317.60" y1="75.53" x2="314.80" y2="75.53" stroke="#000" stroke-width="1.0"/>
<line x1="29.10" y1="73.47" x2="31.90" y2="73.47" stroke="#000" stroke-width="1.0"/>
<line x1="317.60" y1="73.47" x2="314.80" y2="73.47" stroke="#000" stroke-width="1.0"/>
<line x1="29.10" y1="71.87" x2="31.90" y2="71.87" stroke="#000" stroke-width="1.0"/>
<line x1="317.60" y1="71.87" x2="314.80" y2="71.87" stroke="#000" stroke-width="1.0"/>
<line x1="29.10" y1="70.56" x2="31.90" y2="70.56" stroke="#000" stroke-width="1.0"/>
<line x1="317.60" y1="70.56" x2="314.80" y2="70.56" stroke="#000" stroke-width="1.0"/>
<line x1="29.10" y1="69.46" x2="31.90" y2="69.46" stroke="#000" stroke-width="1.0"/>
<line x1="317.60" y1="69.46" x2="314.80" y2="69.46" stroke="#000" stroke-width="1.0"/>
<line x1="29.10" y1="68.50" x2="31.90" y2="68.50" stroke="#000" stroke-width="1.0"/>
<line x1="317.60" y1="68.50" x2="314.80" y2="68.50" stroke="#000" stroke-width="1.0"/>
<line x1="29.10" y1="67.65" x2="31.90" y2="67.65" stroke="#000" stroke-width="1.0"/>
<line x1="317.60" y1="67.65" x2="314.80" y2="67.65" stroke="#000" stroke-width="1.0"/>
<line x1="27.50" y1="66.90" x2="31.90" y2="66.90" stroke="#000" stroke-width="1.2"/>
<line x1="317.60" y1="66.90" x2="313.20" y2="66.90" stroke="#000" stroke-width="1.2"/>
<line x1="29.10" y1="61.93" x2="31.90" y2="61.93" stroke="#000" stroke-width="1.0"/>
<line x1="317.60" y1="61.93" x2="314.80" y2="61.93" stroke="#000" stroke-width="1.0"/>
<line x1="29.10" y1="59.03" x2="31.90" y2="59.03" stroke="#000" stroke-width="1.0"/>
<line x1="317.60" y1="59.03" x2="314.80" y2="59.03" stroke="#000" stroke-width="1.0"/>
<line x1="29.10" y1="56.97" x2="31.90" y2="56.97" stroke="#000" stroke-width="1.0"/>
<line x1="317.60" y1="56.97" x2="314.80" y2="56.97" stroke="#000" stroke-width="1.0"/>
<line x1="29.10" y1="55.37" x2="31.90" y2="55.37" stroke="#000" stroke-width="1.0"/>
<line x1="317.60" y1="55.37" x2="314.80" y2="55.37" stroke="#000" stroke-width="1.0"/>
<line x1="29.10" y1="54.06" x2="31.90" y2="54.06" stroke="#000" stroke-width="1.0"/>
<line x1="317.60" y1="54.06" x2="314.80" y2="54.06" stroke="#000" stroke-width="1.0"/>
<line x1="29.10" y1="52.96" x2="31.90" y2="52.96" stroke="#000" stroke-width="1.0"/>
<line x1="317.60" y1="52.96" x2="314.80" y2="52.96" stroke="#000" stroke-width="1.0"/>
<line x1="29.10" y1="52.00" x2="31.90" y2="52.00" stroke="#000" stroke-width="1.0"/>
<line x1="317.60" y1="52.00" x2="314.80" y2="52.00" stroke="#000" stroke-width="1.0"/>
<line x1="29.10" y1="51.15" x2="31.90" y2="51.15" stroke="#000" stroke-width="1.0"/>
<line x1="317.60" y1="51.15" x2="314.80" y2="51.15" stroke="#000" stroke-width="1.0"/>
<line x1="27.50" y1="50.40" x2="31.90" y2="50.40" stroke="#000" stroke-width="1.2"/>
<line x1="317.60" y1="50.40" x2="313.20" y2="50.40" stroke="#000" stroke-width="1.2"/>
<line x1="29.10" y1="45.43" x2="31.90" y2="45.43" stroke="#000" stroke-width="1.0"/>
<line x1="317.60" y1="45.43" x2="314.80" y2="45.43" stroke="#000" stroke-width="1.0"/>
<line x1="29.10" y1="42.53" x2="31.90" y2="42.53" stroke="#000" stroke-width="1.0"/>
<line x1="317.60" y1="42.53" x2="314.80" y2="42.53" stroke="#000" stroke-width="1.0"/>
<line x1="29.10" y1="40.47" x2="31.90" y2="40.47" stroke="#000" stroke-width="1.0"/>
<line x1="317.60" y1="40.47" x2="314.80" y2="40.47" stroke="#000" stroke-width="1.0"/>
<line x1="29.10" y1="38.87" x2="31.90" y2="38.87" stroke="#000" stroke-width="1.0"/>
<line x1="317.60" y1="38.87" x2="314.80" y2="38.87" stroke="#000" stroke-width="1.0"/>
<line x1="29.10" y1="37.56" x2="31.90" y2="37.56" stroke="#000" stroke-width="1.0"/>
<line x1="317.60" y1="37.56" x2="314.80" y2="37.56" stroke="#000" stroke-width="1.0"/>
<line x1="29.10" y1="36.46" x2="31.90" y2="36.46" stroke="#000" stroke-width="1.0"/>
<line x1="317.60" y1="36.46" x2="314.80" y2="36.46" stroke="#000" stroke-width="1.0"/>
<line x1="29.10" y1="35.50" x2="31.90" y2="35.50" stroke="#000" stroke-width="1.0"/>
<line x1="317.60" y1="35.50" x2="314.80" y2="35.50" stroke="#000" stroke-width="1.0"/>
<line x1="29.10" y1="34.65" x2="31.90" y2="34.65" stroke="#000" stroke-width="1.0"/>
<line x1="317.60" y1="34.65" x2="314.80" y2="34.65" stroke="#000" stroke-width="1.0"/>
<line x1="27.50" y1="33.90" x2="31.90" y2="33.90" stroke="#000" stroke-width="1.2"/>
<line x1="317.60" y1="33.90" x2="313.20" y2="33.90" stroke="#000" stroke-width="1.2"/>
<line x1="29.10" y1="28.93" x2="31.90" y2="28.93" stroke="#000" stroke-width="1.0"/>
<line x1="317.60" y1="28.93" x2="314.80" y2="28.93" stroke="#000" stroke-width="1.0"/>
<line x1="29.10" y1="26.03" x2="31.90" y2="26.03" stroke="#000" stroke-width="1.0"/>
<line x1="317.60" y1="26.03" x2="314.80" y2="26.03" stroke="#000" stroke-width="1.0"/>
<line x1="29.10" y1="23.97" x2="31.90" y2="23.97" stroke="#000" stroke-width="1.0"/>
<line x1="317.60" y1="23.97" x2="314.80" y2="23.97" stroke="#000" stroke-width="1.0"/>
<line x1="29.10" y1="22.37" x2="31.90" y2="22.37" stroke="#000" stroke-width="1.0"/>
<line x1="317.60" y1="22.37" x2="314.80" y2="22.37" stroke="#000" stroke-width="1.0"/>
<line x1="29.10" y1="21.06" x2="31.90" y2="21.06" stroke="#000" stroke-width="1.0"/>
<line x1="317.60" y1="21.06" x2="314.80" y2="21.06" stroke="#000" stroke-width="1.0"/>
<line x1="29.10" y1="19.96" x2="31.90" y2="19.96" stroke="#000" stroke-width="1.0"/>
<line x1="317.60" y1="19.96" x2="314.80" y2="19.96" stroke="#000" stroke-width="1.0"/>
<line x1="29.10" y1="19.00" x2="31.90" y2="19.00" stroke="#000" stroke-width="1.0"/>
<line x1="317.60" y1="19.00" x2="314.80" y2="19.00" stroke="#000" stroke-width="1.0"/>
<line x1="29.10" y1="18.15" x2="31.90" y2="18.15" stroke="#000" stroke-width="1.0"/>
<line x1="317.60" y1="18.15" x2="314.80" y2="18.15" stroke="#000" stroke-width="1.0"/>
<line x1="27.50" y1="17.40" x2="31.90" y2="17.40" stroke="#000" stroke-width="1.2"/>
<line x1="317.60" y1="17.40" x2="313.20" y2="17.40" stroke="#000" stroke-width="1.2"/>
<line x1="29.10" y1="12.43" x2="31.90" y2="12.43" stroke="#000" stroke-width="1.0"/>
<line x1="317.60" y1="12.43" x2="314.80" y2="12.43" stroke="#000" stroke-width="1.0"/>
<line x1="29.10" y1="9.53" x2="31.90" y2="9.53" stroke="#000" stroke-width="1.0"/>
<line x1="317.60" y1="9.53" x2="314.80" y2="9.53" stroke="#000" stroke-width="1.0"/>
<line x1="29.10" y1="7.47" x2="31.90" y2="7.47" stroke="#000" stroke-width="1.0"/>
<line x1="317.60" y1="7.47" x2="314.80" y2="7.47" stroke="#000" stroke-width="1.0"/>
<line x1="29.10" y1="5.87" x2="31.90" y2="5.87" stroke="#000" stroke-width="1.0"/>
<line x1="317.60" y1="5.87" x2="314.80" y2="5.87" stroke="#000" stroke-width="1.0"/>
<line x1="29.10" y1="4.56" x2="31.90" y2="4.56" stroke="#000" stroke-width="1.0"/>
<line x1="317.60" y1="4.56" x2="314.80" y2="4.56" stroke="#000" stroke-width="1.0"/>
<line x1="29.10" y1="3.46" x2="31.90" y2="3.46" stroke="#000" stroke-width="1.0"/>
<line x1="317.60" y1="3.46" x2="314.80" y2="3.46" stroke="#000" stroke-width="1.0"/>
<line x1="29.10" y1="2.50" x2="31.90" y2="2.50" stroke="#000" stroke-width="1.0"/>
<line x1="317.60" y1="2.50" x2="314.80" y2="2.50" stroke="#000" stroke-width="1.0"/>
<line x1="29.10" y1="1.65" x2="31.90" y2="1.65" stroke="#000" stroke-width="1.0"/>
<line x1="317.60" y1="1.65" x2="314.80" y2="1.65" stroke="#000" stroke-width="1.0"/>
<line x1="27.50" y1="0.90" x2="31.90" y2="0.90" stroke="#000" stroke-width="1.2"/>
<line x1="317.60" y1="0.90" x2="313.20" y2="0.90" stroke="#000" stroke-width="1.2"/>
<text x="61.2" y="317.2" font-size="11.8" font-weight="bold" text-anchor="middle" textLength="23.8" lengthAdjust="spacingAndGlyphs">-2000</text>
<text x="118.0" y="317.2" font-size="11.8" font-weight="bold" text-anchor="middle" textLength="23.8" lengthAdjust="spacingAndGlyphs">-1000</text>
<text x="174.8" y="317.2" font-size="11.8" font-weight="bold" text-anchor="middle" textLength="4.95" lengthAdjust="spacingAndGlyphs">0</text>
<text x="231.6" y="317.2" font-size="11.8" font-weight="bold" text-anchor="middle" textLength="19.8" lengthAdjust="spacingAndGlyphs">1000</text>
<text x="288.4" y="317.2" font-size="11.8" font-weight="bold" text-anchor="middle" textLength="19.8" lengthAdjust="spacingAndGlyphs">2000</text>
<text x="176.0" y="341.4" font-size="13.6" text-anchor="middle" font-weight="bold" textLength="71" lengthAdjust="spacingAndGlyphs"><tspan font-family="Liberation Serif" font-weight="bold" font-size="14">ω–2θ</tspan> (arcsec)</text>
<text transform="translate(11,148.8) rotate(-90)" font-size="12.8" text-anchor="middle" font-weight="bold" textLength="88.8" lengthAdjust="spacingAndGlyphs">Intensity (a.u.)</text>
<text x="40.2" y="26.3" font-size="18" textLength="21.5" lengthAdjust="spacingAndGlyphs">(a)</text>
<line x1="206.00" y1="15.60" x2="232.60" y2="15.60" stroke="#0000ff" stroke-width="1.8"/>
<text x="235.5" y="20.0" font-size="12.3" textLength="73.5" lengthAdjust="spacingAndGlyphs">TMBi/V=0.036</text>
<line x1="206.00" y1="33.40" x2="232.60" y2="33.40" stroke="#ff0000" stroke-width="1.8"/>
<text x="235.5" y="37.8" font-size="12.3" textLength="73.5" lengthAdjust="spacingAndGlyphs">TMBi/V=0.032</text>
<line x1="206.00" y1="51.20" x2="232.60" y2="51.20" stroke="#000" stroke-width="1.8"/>
<text x="235.5" y="55.6" font-size="12.3" textLength="73.5" lengthAdjust="spacingAndGlyphs">TMBi/V=0.023</text>
<g id="curvesB"><path d="M58.40,652.54 L58.88,652.27 L59.46,653.01 L60.15,652.13 L60.92,652.82 L61.75,652.55 L62.64,652.08 L63.58,652.74 L64.53,652.02 L65.50,652.59 L66.46,652.03 L67.41,652.05 L68.33,652.53 L69.19,653.11 L70.00,652.04 L70.89,652.16 L71.76,652.74 L72.61,653.19 L73.45,652.60 L74.28,652.30 L75.10,653.14 L75.91,651.71 L76.73,652.89 L77.54,652.00 L78.35,651.75 L79.17,651.67 L80.00,651.91 L80.83,652.63 L81.67,651.64 L82.50,652.19 L83.33,652.23 L84.17,651.79 L85.00,652.00 L85.83,651.23 L86.67,651.17 L87.50,651.33 L88.33,651.99 L89.17,651.55 L90.00,651.32 L90.85,651.66 L91.71,651.40 L92.59,651.10 L93.48,651.76 L94.37,651.54 L95.25,650.78 L96.12,651.20 L96.96,651.05 L97.78,651.49 L98.56,651.20 L99.31,650.46 L100.00,651.42 L101.08,650.00 L102.03,650.33 L102.90,650.72 L103.71,649.68 L104.48,650.06 L105.23,649.25 L106.00,650.05 L106.90,650.02 L107.78,649.54 L108.62,649.79 L109.44,648.75 L110.24,649.11 L111.00,648.74 L111.88,648.45 L112.72,647.97 L113.52,648.25 L114.28,648.12 L115.00,647.16 L116.11,647.05 L117.11,645.80 L118.00,646.50 L119.06,646.20 L120.00,646.74 L120.98,646.87 L122.00,646.68 L122.73,647.41 L123.49,648.48 L124.30,647.88 L125.16,648.53 L126.06,647.81 L127.00,647.23 L127.59,646.72 L128.20,646.86 L128.82,646.27 L129.43,645.64 L130.00,645.00 L130.53,644.38 L131.04,643.75 L131.52,643.08 L132.01,642.34 L132.50,641.50 L132.86,640.84 L133.21,640.15 L133.57,639.41 L133.93,638.64 L134.29,637.81 L134.64,636.93 L135.00,636.00 L135.25,635.31 L135.50,634.59 L135.75,633.85 L136.00,633.08 L136.25,632.28 L136.50,631.46 L136.75,630.63 L137.00,629.77 L137.25,628.89 L137.50,628.00 L137.71,627.24 L137.92,626.45 L138.14,625.64 L138.35,624.81 L138.57,623.98 L138.78,623.12 L138.99,622.27 L139.20,621.41 L139.41,620.55 L139.61,619.69 L139.81,618.84 L140.00,618.00 L140.19,617.16 L140.37,616.31 L140.54,615.45 L140.72,614.59 L140.89,613.73 L141.06,612.88 L141.22,612.02 L141.38,611.19 L141.54,610.36 L141.70,609.55 L141.85,608.76 L142.00,608.00 L142.17,607.14 L142.34,606.34 L142.50,605.58 L142.65,604.85 L142.81,604.12 L142.96,603.39 L143.11,602.63 L143.27,601.82 L143.43,600.95 L143.60,600.00 L143.72,599.32 L143.84,598.62 L143.96,597.89 L144.09,597.14 L144.21,596.37 L144.34,595.58 L144.47,594.78 L144.60,593.97 L144.73,593.14 L144.86,592.30 L144.99,591.45 L145.12,590.59 L145.25,589.73 L145.38,588.87 L145.50,588.00 L145.61,587.23 L145.72,586.44 L145.82,585.65 L145.93,584.84 L146.04,584.03 L146.14,583.21 L146.25,582.38 L146.35,581.54 L146.46,580.71 L146.56,579.86 L146.67,579.02 L146.77,578.18 L146.88,577.34 L146.98,576.50 L147.09,575.66 L147.19,574.83 L147.30,574.00 L147.41,573.18 L147.51,572.37 L147.62,571.57 L147.72,570.77 L147.82,569.97 L147.93,569.18 L148.03,568.38 L148.14,567.59 L148.24,566.79 L148.34,565.98 L148.45,565.16 L148.56,564.34 L148.66,563.50 L148.77,562.65 L148.88,561.78 L148.99,560.90 L149.10,560.00 L149.19,559.26 L149.28,558.50 L149.38,557.73 L149.47,556.95 L149.56,556.16 L149.66,555.36 L149.76,554.56 L149.85,553.74 L149.95,552.92 L150.05,552.10 L150.14,551.27 L150.24,550.44 L150.34,549.61 L150.43,548.78 L150.53,547.94 L150.63,547.11 L150.72,546.28 L150.82,545.45 L150.91,544.63 L151.01,543.81 L151.10,543.00 L151.19,542.18 L151.29,541.35 L151.39,540.51 L151.50,539.66 L151.60,538.80 L151.71,537.94 L151.81,537.07 L151.92,536.21 L152.02,535.35 L152.12,534.49 L152.23,533.64 L152.32,532.80 L152.42,531.97 L152.51,531.15 L152.60,530.35 L152.68,529.56 L152.76,528.80 L152.83,528.06 L152.89,527.35 L152.95,526.66 L153.00,526.00 L153.06,524.94 L153.09,524.01 L153.09,523.17 L153.08,522.41 L153.05,521.69 L153.01,521.00 L152.98,520.31 L152.94,519.59 L152.93,518.83 L152.92,517.99 L152.95,517.06 L153.00,516.00 L153.04,515.33 L153.10,514.62 L153.16,513.87 L153.23,513.08 L153.30,512.26 L153.38,511.42 L153.46,510.56 L153.55,509.68 L153.64,508.78 L153.73,507.89 L153.82,506.99 L153.92,506.09 L154.01,505.21 L154.11,504.33 L154.20,503.48 L154.29,502.65 L154.38,501.84 L154.47,501.07 L154.55,500.34 L154.63,499.64 L154.70,499.00 L154.83,497.88 L154.95,496.86 L155.06,495.94 L155.16,495.10 L155.27,494.31 L155.37,493.57 L155.47,492.86 L155.57,492.17 L155.68,491.47 L155.79,490.75 L155.90,490.00 L156.03,489.19 L156.17,488.45 L156.31,487.74 L156.46,487.06 L156.60,486.37 L156.74,485.65 L156.89,484.88 L157.03,484.03 L157.17,483.07 L157.30,482.00 L157.37,481.34 L157.44,480.63 L157.51,479.88 L157.58,479.09 L157.65,478.26 L157.72,477.41 L157.79,476.54 L157.85,475.66 L157.92,474.76 L157.98,473.86 L158.05,472.96 L158.11,472.06 L158.18,471.18 L158.24,470.31 L158.31,469.46 L158.37,468.64 L158.44,467.85 L158.50,467.10 L158.58,466.18 L158.66,465.29 L158.74,464.43 L158.81,463.59 L158.89,462.77 L158.96,461.97 L159.04,461.18 L159.11,460.40 L159.19,459.63 L159.27,458.86 L159.35,458.08 L159.43,457.30 L159.51,456.51 L159.60,455.70 L159.69,454.89 L159.78,454.07 L159.88,453.26 L159.98,452.44 L160.07,451.63 L160.17,450.81 L160.27,450.00 L160.38,449.19 L160.48,448.37 L160.58,447.56 L160.69,446.74 L160.79,445.93 L160.90,445.11 L161.00,444.30 L161.10,443.48 L161.21,442.64 L161.31,441.79 L161.42,440.94 L161.53,440.09 L161.64,439.23 L161.74,438.38 L161.85,437.54 L161.96,436.71 L162.07,435.90 L162.18,435.11 L162.28,434.34 L162.39,433.61 L162.50,432.90 L162.65,431.95 L162.81,431.03 L162.96,430.14 L163.12,429.29 L163.28,428.47 L163.43,427.69 L163.58,426.95 L163.73,426.26 L163.87,425.60 L164.00,425.00 L164.31,423.71 L164.60,422.71 L164.86,421.92 L165.10,421.30 L165.80,420.50 L166.50,421.10 L166.68,421.60 L166.86,422.23 L167.06,422.99 L167.28,423.91 L167.50,425.00 L167.62,425.61 L167.74,426.27 L167.87,426.97 L168.00,427.70 L168.13,428.48 L168.27,429.30 L168.40,430.15 L168.54,431.03 L168.67,431.95 L168.80,432.90 L168.89,433.61 L168.99,434.34 L169.08,435.11 L169.17,435.90 L169.26,436.71 L169.36,437.54 L169.45,438.38 L169.54,439.23 L169.64,440.09 L169.73,440.94 L169.82,441.79 L169.91,442.64 L170.01,443.48 L170.10,444.30 L170.19,445.11 L170.29,445.93 L170.38,446.74 L170.48,447.56 L170.58,448.37 L170.67,449.19 L170.77,450.00 L170.86,450.81 L170.96,451.63 L171.05,452.44 L171.14,453.26 L171.23,454.07 L171.32,454.89 L171.40,455.70 L171.48,456.51 L171.56,457.30 L171.64,458.08 L171.71,458.86 L171.78,459.63 L171.85,460.40 L171.93,461.18 L171.99,461.97 L172.06,462.77 L172.13,463.59 L172.20,464.43 L172.27,465.29 L172.33,466.18 L172.40,467.10 L172.45,467.85 L172.50,468.64 L172.56,469.46 L172.61,470.31 L172.66,471.18 L172.71,472.06 L172.76,472.96 L172.81,473.86 L172.86,474.76 L172.91,475.66 L172.96,476.54 L173.01,477.41 L173.06,478.26 L173.11,479.09 L173.16,479.88 L173.20,480.63 L173.25,481.34 L173.30,482.00 L173.38,483.07 L173.47,484.03 L173.55,484.88 L173.64,485.65 L173.72,486.37 L173.80,487.06 L173.88,487.74 L173.95,488.45 L174.03,489.19 L174.10,490.00 L174.16,490.77 L174.21,491.55 L174.26,492.33 L174.31,493.11 L174.35,493.91 L174.40,494.72 L174.45,495.54 L174.50,496.37 L174.56,497.23 L174.62,498.10 L174.70,499.00 L174.77,499.78 L174.86,500.59 L174.95,501.42 L175.04,502.27 L175.14,503.13 L175.24,504.00 L175.35,504.88 L175.45,505.75 L175.55,506.62 L175.64,507.49 L175.74,508.34 L175.82,509.18 L175.90,510.00 L175.98,510.87 L176.04,511.72 L176.11,512.57 L176.17,513.41 L176.22,514.24 L176.27,515.06 L176.33,515.88 L176.38,516.70 L176.43,517.52 L176.48,518.34 L176.54,519.17 L176.60,520.00 L176.66,520.82 L176.73,521.63 L176.79,522.43 L176.86,523.22 L176.92,524.01 L176.99,524.81 L177.05,525.62 L177.12,526.44 L177.19,527.29 L177.26,528.16 L177.33,529.06 L177.40,530.00 L177.45,530.74 L177.51,531.51 L177.56,532.31 L177.62,533.13 L177.67,533.98 L177.73,534.83 L177.79,535.70 L177.84,536.56 L177.90,537.43 L177.96,538.29 L178.02,539.13 L178.07,539.96 L178.13,540.77 L178.19,541.55 L178.24,542.29 L178.30,543.00 L178.38,543.97 L178.46,544.89 L178.55,545.77 L178.63,546.61 L178.71,547.42 L178.80,548.20 L178.88,548.97 L178.96,549.73 L179.04,550.48 L179.12,551.23 L179.20,552.00 L179.28,552.83 L179.36,553.61 L179.44,554.37 L179.51,555.11 L179.59,555.85 L179.66,556.60 L179.74,557.38 L179.82,558.20 L179.91,559.07 L180.00,560.00 L180.07,560.71 L180.14,561.45 L180.20,562.22 L180.27,563.01 L180.34,563.82 L180.41,564.64 L180.49,565.48 L180.56,566.33 L180.64,567.18 L180.73,568.04 L180.81,568.89 L180.90,569.74 L181.00,570.57 L181.10,571.40 L181.21,572.22 L181.32,573.04 L181.44,573.86 L181.57,574.68 L181.70,575.50 L181.83,576.33 L181.96,577.15 L182.10,577.97 L182.24,578.80 L182.37,579.62 L182.51,580.44 L182.64,581.26 L182.77,582.08 L182.90,582.90 L183.02,583.72 L183.14,584.53 L183.26,585.35 L183.38,586.16 L183.49,586.98 L183.60,587.79 L183.72,588.61 L183.83,589.42 L183.95,590.23 L184.07,591.05 L184.20,591.86 L184.33,592.67 L184.46,593.49 L184.60,594.30 L184.74,595.11 L184.89,595.93 L185.03,596.74 L185.18,597.56 L185.33,598.37 L185.49,599.19 L185.64,600.00 L185.81,600.81 L185.97,601.63 L186.15,602.44 L186.32,603.26 L186.51,604.07 L186.70,604.89 L186.90,605.70 L187.11,606.52 L187.33,607.37 L187.57,608.22 L187.81,609.09 L188.06,609.96 L188.32,610.82 L188.58,611.68 L188.83,612.53 L189.09,613.36 L189.35,614.17 L189.60,614.95 L189.84,615.71 L190.08,616.42 L190.30,617.10 L190.63,618.08 L190.95,618.98 L191.26,619.82 L191.56,620.60 L191.86,621.34 L192.15,622.04 L192.43,622.71 L192.72,623.36 L193.00,624.00 L193.40,624.88 L193.76,625.64 L194.12,626.33 L194.49,627.02 L194.91,627.76 L195.40,628.60 L195.77,629.23 L196.16,629.91 L196.58,630.61 L197.02,631.34 L197.47,632.08 L197.94,632.82 L198.42,633.56 L198.91,634.29 L199.40,635.00 L199.90,635.70 L200.39,636.40 L200.90,637.11 L201.42,637.81 L201.95,638.51 L202.50,639.19 L203.07,639.85 L203.67,640.49 L204.30,641.10 L204.89,641.63 L205.49,642.72 L206.11,641.96 L206.74,642.48 L207.39,643.98 L208.07,644.72 L208.76,644.53 L209.48,645.11 L210.23,644.61 L211.00,645.54 L211.71,646.62 L212.42,646.71 L213.13,646.97 L213.85,647.34 L214.60,646.42 L215.37,646.36 L216.19,646.57 L217.05,647.25 L217.97,647.62 L218.95,648.13 L220.00,647.93 L220.67,647.90 L221.35,648.15 L222.04,647.76 L222.74,647.97 L223.45,647.26 L224.19,648.43 L224.94,647.67 L225.71,648.75 L226.50,648.39 L227.32,647.93 L228.16,647.72 L229.04,647.95 L229.94,648.57 L230.88,648.71 L231.85,647.88 L232.86,647.86 L233.91,648.59 L235.00,648.72 L235.65,648.46 L236.30,648.24 L236.96,648.83 L237.63,647.97 L238.30,648.43 L238.98,648.70 L239.67,649.47 L240.37,649.02 L241.08,649.40 L241.80,648.81 L242.52,648.48 L243.26,648.52 L244.01,649.61 L244.77,649.25 L245.55,648.68 L246.33,648.27 L247.13,649.00 L247.95,649.29 L248.77,648.93 L249.62,648.71 L250.47,649.34 L251.35,649.75 L252.24,648.72 L253.14,648.46 L254.07,648.93 L255.01,649.08 L255.97,649.49 L256.95,648.78 L257.94,649.70 L258.96,649.64 L260.00,649.31 L260.65,648.87 L261.32,650.03 L261.99,649.06 L262.67,649.83 L263.35,648.96 L264.05,648.96 L264.75,649.78 L265.46,649.10 L266.18,650.09 L266.90,649.42 L267.63,648.97 L268.37,649.04 L269.11,649.34 L269.86,649.73 L270.62,650.16 L271.38,648.97 L272.15,649.36 L272.93,649.10 L273.71,650.25 L274.50,649.01 L275.29,648.89 L276.09,648.92 L276.89,649.43 L277.70,650.20 L278.51,650.19 L279.33,649.97 L280.15,650.38 L280.98,650.30 L281.81,649.40 L282.65,649.20 L283.49,650.34 L284.33,650.06 L285.18,649.01 L286.03,649.97 L286.88,649.55 L287.74,649.55 L288.60,649.50 L289.46,649.27 L290.33,649.03 L291.20,649.46 L292.07,649.58 L292.94,650.49 L293.82,649.26 L294.70,650.53 L295.58,649.41 L296.46,649.64 L297.34,650.35 L298.23,650.36 L299.11,649.79 L300.00,649.22 L300.74,649.87 L301.49,649.73 L302.26,650.56 L303.05,649.48 L303.85,649.74 L304.66,650.55 L305.49,649.26 L306.33,649.84 L307.18,650.45 L308.04,650.39 L308.92,649.31 L309.80,649.31 L310.69,649.37 L311.59,650.66 L312.50,649.68 L313.41,650.42 L314.33,650.66 L315.25,649.83 L316.18,649.74 L317.11,650.78 L318.04,650.27 L318.98,649.75 L319.92,650.44 L320.85,649.85 L321.79,649.80 L322.73,649.40 L323.66,650.54 L324.59,650.79 L325.52,650.37 L326.44,650.85 L327.36,649.48 L328.27,649.80 L329.18,650.17 L330.07,650.90 L330.97,650.91 L331.85,650.07 L332.72,649.87 L333.58,650.15 L334.43,650.25 L335.27,650.91 L336.10,649.80 L336.91,650.74 L337.71,650.65 L338.49,650.78 L339.26,650.72 L340.01,650.48 L340.75,650.06 L341.46,650.06 L342.16,650.13 L342.84,650.76 L343.50,649.72 L344.13,649.90 L344.75,650.74 L345.34,649.99 L345.91,649.72 L346.46,649.68 L346.98,650.46 L347.47,650.13 L347.94,651.11 L348.39,650.97 L348.80,651.13" fill="none" stroke="#0000ff" stroke-width="1.7" stroke-linejoin="round"/>
<path d="M58.40,651.64 L58.88,651.68 L59.46,651.16 L60.15,650.82 L60.92,650.42 L61.75,651.40 L62.64,651.10 L63.58,651.52 L64.53,650.93 L65.50,651.51 L66.46,650.74 L67.41,651.52 L68.33,651.39 L69.19,650.90 L70.00,651.06 L70.89,651.24 L71.76,650.48 L72.61,650.98 L73.45,651.32 L74.28,650.47 L75.10,651.24 L75.91,651.02 L76.73,651.21 L77.54,650.40 L78.35,649.99 L79.17,651.00 L80.00,650.96 L80.83,650.37 L81.67,649.79 L82.50,649.90 L83.33,650.50 L84.17,649.93 L85.00,650.87 L85.83,650.27 L86.67,649.63 L87.50,650.25 L88.33,649.74 L89.17,650.53 L90.00,650.41 L90.85,649.74 L91.71,649.85 L92.59,649.83 L93.48,649.90 L94.37,650.06 L95.25,648.53 L96.12,648.92 L96.96,649.18 L97.78,648.63 L98.56,648.95 L99.31,648.09 L100.00,649.17 L101.08,648.46 L102.03,647.67 L102.90,648.30 L103.71,647.59 L104.48,647.23 L105.23,647.47 L106.00,646.76 L106.90,646.63 L107.78,647.37 L108.62,646.88 L109.44,645.60 L110.24,646.49 L111.00,645.08 L111.88,645.21 L112.72,645.73 L113.52,644.94 L114.28,644.10 L115.00,643.82 L115.84,643.30 L116.62,642.34 L117.34,643.08 L118.00,641.13 L118.76,640.93 L119.41,640.71 L120.00,639.85 L120.74,641.08 L121.50,641.12 L121.81,642.86 L122.14,643.58 L122.49,644.17 L122.86,645.40 L123.23,645.47 L123.60,646.50 L124.37,646.50 L125.18,645.50 L126.00,644.76 L126.62,644.70 L127.26,643.79 L127.89,642.79 L128.50,642.80 L129.08,642.12 L129.64,641.37 L130.19,640.51 L130.70,639.50 L130.98,638.85 L131.24,638.15 L131.49,637.40 L131.74,636.61 L131.98,635.78 L132.24,634.91 L132.50,634.00 L132.71,633.26 L132.93,632.49 L133.15,631.69 L133.38,630.86 L133.60,630.01 L133.83,629.15 L134.05,628.27 L134.28,627.39 L134.50,626.50 L134.70,625.69 L134.90,624.87 L135.10,624.04 L135.30,623.20 L135.50,622.34 L135.70,621.48 L135.90,620.62 L136.10,619.75 L136.30,618.87 L136.50,618.00 L136.68,617.20 L136.86,616.39 L137.05,615.58 L137.23,614.76 L137.41,613.94 L137.60,613.12 L137.78,612.29 L137.96,611.47 L138.14,610.64 L138.32,609.82 L138.50,609.00 L138.68,608.19 L138.86,607.38 L139.03,606.57 L139.21,605.77 L139.39,604.97 L139.56,604.16 L139.74,603.35 L139.91,602.53 L140.07,601.70 L140.24,600.86 L140.40,600.00 L140.54,599.20 L140.69,598.39 L140.82,597.57 L140.96,596.74 L141.09,595.90 L141.23,595.06 L141.36,594.22 L141.49,593.37 L141.61,592.52 L141.74,591.68 L141.87,590.84 L142.00,590.00 L142.13,589.17 L142.26,588.33 L142.38,587.50 L142.51,586.67 L142.63,585.83 L142.76,585.00 L142.88,584.17 L143.00,583.33 L143.13,582.50 L143.25,581.67 L143.38,580.83 L143.50,580.00 L143.63,579.17 L143.75,578.33 L143.88,577.50 L144.01,576.67 L144.14,575.83 L144.26,575.00 L144.39,574.17 L144.51,573.33 L144.64,572.50 L144.76,571.67 L144.88,570.83 L145.00,570.00 L145.11,569.19 L145.22,568.41 L145.32,567.66 L145.41,566.93 L145.51,566.19 L145.60,565.44 L145.70,564.66 L145.80,563.85 L145.91,562.99 L146.03,562.07 L146.16,561.08 L146.30,560.00 L146.39,559.34 L146.48,558.65 L146.58,557.94 L146.68,557.20 L146.79,556.44 L146.90,555.65 L147.01,554.85 L147.13,554.03 L147.25,553.20 L147.37,552.36 L147.48,551.51 L147.60,550.65 L147.72,549.79 L147.84,548.93 L147.96,548.06 L148.07,547.20 L148.18,546.34 L148.29,545.49 L148.40,544.65 L148.50,543.82 L148.60,543.00 L148.69,542.18 L148.79,541.36 L148.88,540.52 L148.97,539.67 L149.06,538.82 L149.15,537.97 L149.24,537.11 L149.32,536.25 L149.41,535.40 L149.49,534.55 L149.57,533.70 L149.65,532.87 L149.73,532.04 L149.81,531.22 L149.88,530.42 L149.96,529.63 L150.03,528.86 L150.10,528.11 L150.17,527.39 L150.23,526.68 L150.30,526.00 L150.40,524.97 L150.49,524.03 L150.57,523.15 L150.65,522.34 L150.72,521.56 L150.79,520.81 L150.86,520.07 L150.93,519.32 L150.99,518.56 L151.06,517.76 L151.14,516.91 L151.22,515.99 L151.30,515.00 L151.36,514.30 L151.42,513.57 L151.48,512.80 L151.54,512.01 L151.60,511.19 L151.66,510.35 L151.72,509.49 L151.79,508.62 L151.85,507.75 L151.92,506.88 L151.98,506.00 L152.05,505.14 L152.12,504.28 L152.19,503.44 L152.25,502.62 L152.32,501.83 L152.39,501.07 L152.46,500.34 L152.53,499.65 L152.60,499.00 L152.73,497.92 L152.86,496.92 L152.99,496.01 L153.13,495.17 L153.27,494.38 L153.41,493.63 L153.55,492.90 L153.69,492.19 L153.82,491.48 L153.96,490.75 L154.10,490.00 L154.25,489.16 L154.40,488.32 L154.55,487.49 L154.70,486.68 L154.85,485.88 L155.00,485.08 L155.15,484.29 L155.30,483.52 L155.45,482.75 L155.60,482.00 L155.79,481.06 L155.98,480.11 L156.18,479.17 L156.37,478.25 L156.56,477.36 L156.75,476.52 L156.93,475.72 L157.10,475.00 L157.36,473.96 L157.62,473.04 L157.86,472.24 L158.08,471.56 L158.30,471.00 L159.20,470.00 L160.10,470.60 L160.37,471.15 L160.66,471.84 L160.96,472.76 L161.30,474.00 L161.45,474.61 L161.60,475.31 L161.77,476.06 L161.94,476.87 L162.11,477.71 L162.28,478.58 L162.44,479.46 L162.61,480.33 L162.76,481.18 L162.90,482.00 L163.03,482.80 L163.15,483.58 L163.27,484.37 L163.38,485.15 L163.49,485.94 L163.59,486.73 L163.69,487.53 L163.79,488.34 L163.90,489.16 L164.00,490.00 L164.09,490.77 L164.19,491.55 L164.28,492.33 L164.37,493.11 L164.46,493.91 L164.55,494.72 L164.64,495.54 L164.73,496.37 L164.82,497.23 L164.91,498.10 L165.00,499.00 L165.08,499.78 L165.16,500.59 L165.23,501.42 L165.31,502.27 L165.39,503.13 L165.47,504.00 L165.55,504.88 L165.63,505.75 L165.71,506.62 L165.78,507.49 L165.86,508.34 L165.93,509.18 L166.00,510.00 L166.07,510.87 L166.15,511.72 L166.22,512.57 L166.29,513.41 L166.35,514.24 L166.42,515.06 L166.48,515.88 L166.55,516.70 L166.61,517.52 L166.67,518.34 L166.74,519.17 L166.80,520.00 L166.86,520.82 L166.92,521.63 L166.98,522.43 L167.04,523.22 L167.09,524.01 L167.15,524.81 L167.21,525.62 L167.26,526.44 L167.32,527.29 L167.38,528.16 L167.44,529.06 L167.50,530.00 L167.55,530.74 L167.59,531.51 L167.64,532.31 L167.69,533.13 L167.74,533.98 L167.79,534.83 L167.84,535.70 L167.89,536.56 L167.94,537.43 L167.99,538.29 L168.04,539.13 L168.09,539.96 L168.14,540.77 L168.19,541.55 L168.25,542.29 L168.30,543.00 L168.38,543.97 L168.46,544.89 L168.54,545.77 L168.62,546.61 L168.70,547.42 L168.79,548.20 L168.87,548.97 L168.95,549.73 L169.04,550.48 L169.12,551.23 L169.20,552.00 L169.29,552.83 L169.37,553.61 L169.46,554.37 L169.54,555.11 L169.62,555.85 L169.71,556.60 L169.80,557.38 L169.89,558.20 L169.99,559.07 L170.10,560.00 L170.18,560.71 L170.27,561.45 L170.35,562.22 L170.45,563.01 L170.54,563.82 L170.63,564.64 L170.73,565.48 L170.83,566.33 L170.93,567.18 L171.02,568.04 L171.12,568.89 L171.22,569.74 L171.31,570.57 L171.40,571.40 L171.49,572.22 L171.58,573.04 L171.66,573.86 L171.75,574.68 L171.83,575.50 L171.92,576.33 L172.00,577.15 L172.08,577.97 L172.17,578.80 L172.25,579.62 L172.34,580.44 L172.42,581.26 L172.51,582.08 L172.60,582.90 L172.69,583.72 L172.77,584.53 L172.86,585.35 L172.94,586.16 L173.02,586.98 L173.11,587.79 L173.19,588.61 L173.28,589.42 L173.37,590.23 L173.47,591.05 L173.57,591.86 L173.67,592.67 L173.78,593.49 L173.90,594.30 L174.02,595.11 L174.15,595.93 L174.28,596.74 L174.42,597.56 L174.56,598.37 L174.70,599.19 L174.85,600.00 L175.00,600.81 L175.16,601.63 L175.32,602.44 L175.48,603.26 L175.65,604.07 L175.82,604.89 L176.00,605.70 L176.18,606.51 L176.37,607.33 L176.56,608.14 L176.76,608.95 L176.96,609.77 L177.16,610.58 L177.37,611.39 L177.58,612.21 L177.79,613.02 L178.01,613.84 L178.23,614.65 L178.45,615.47 L178.68,616.28 L178.90,617.10 L179.13,617.93 L179.36,618.79 L179.59,619.66 L179.83,620.54 L180.07,621.43 L180.31,622.32 L180.55,623.19 L180.80,624.06 L181.04,624.90 L181.29,625.72 L181.54,626.50 L181.79,627.25 L182.05,627.95 L182.30,628.60 L182.74,629.61 L183.18,630.48 L183.61,631.24 L184.06,631.92 L184.51,632.56 L184.98,633.18 L185.48,633.82 L186.00,634.50 L186.49,635.14 L187.00,635.78 L187.54,636.43 L188.08,637.07 L188.64,637.69 L189.21,638.31 L189.77,638.90 L190.34,639.47 L190.90,640.00 L191.61,640.65 L192.32,641.26 L193.02,641.83 L193.74,642.37 L194.47,642.88 L195.22,643.36 L196.00,643.80 L196.79,644.21 L197.59,644.57 L198.40,644.90 L199.24,645.20 L200.11,645.48 L201.03,645.74 L202.00,646.00 L202.69,646.17 L203.36,646.34 L204.03,646.49 L204.72,646.64 L205.44,646.99 L206.20,647.46 L207.02,647.64 L207.92,646.58 L208.91,647.72 L210.00,646.85 L210.65,646.89 L211.30,647.37 L211.98,647.56 L212.67,646.99 L213.38,647.36 L214.11,647.26 L214.86,647.25 L215.64,647.24 L216.44,647.18 L217.26,647.52 L218.12,647.73 L219.00,647.91 L219.91,648.37 L220.86,648.29 L221.84,648.15 L222.86,647.95 L223.91,648.43 L225.00,647.84 L225.64,647.84 L226.28,647.77 L226.92,648.63 L227.56,647.86 L228.19,648.01 L228.83,648.22 L229.48,648.57 L230.12,648.71 L230.78,648.65 L231.44,648.68 L232.12,648.10 L232.80,649.20 L233.50,648.96 L234.21,648.48 L234.94,648.49 L235.69,648.78 L236.45,648.12 L237.24,648.93 L238.05,649.34 L238.88,648.55 L239.73,648.77 L240.62,648.43 L241.53,649.43 L242.47,648.65 L243.44,648.65 L244.44,649.20 L245.48,648.71 L246.55,649.54 L247.66,648.82 L248.81,649.11 L250.00,648.71 L250.61,649.15 L251.24,648.98 L251.87,648.44 L252.52,649.63 L253.18,648.55 L253.86,649.19 L254.54,649.35 L255.24,649.05 L255.94,648.86 L256.66,649.06 L257.39,649.89 L258.12,648.42 L258.87,649.75 L259.62,649.34 L260.39,649.17 L261.16,649.42 L261.94,649.43 L262.72,649.73 L263.52,649.97 L264.32,649.29 L265.13,649.06 L265.94,649.09 L266.77,649.92 L267.59,649.29 L268.42,648.69 L269.26,649.48 L270.10,648.79 L270.95,649.15 L271.80,649.62 L272.65,649.57 L273.51,649.47 L274.37,649.93 L275.24,649.61 L276.10,650.17 L276.97,649.94 L277.84,649.13 L278.71,649.92 L279.58,649.31 L280.46,650.20 L281.33,649.72 L282.21,649.43 L283.08,649.08 L283.95,650.10 L284.82,649.37 L285.69,648.88 L286.56,650.07 L287.43,648.89 L288.30,648.96 L289.16,648.95 L290.02,649.89 L290.88,649.77 L291.73,649.67 L292.58,650.36 L293.43,649.67 L294.27,649.29 L295.10,650.48 L295.93,649.16 L296.76,649.08 L297.58,649.35 L298.39,650.49 L299.20,649.67 L300.00,649.59 L300.82,649.61 L301.64,649.63 L302.48,650.21 L303.33,650.05 L304.19,649.52 L305.06,649.39 L305.94,650.34 L306.82,649.97 L307.72,649.89 L308.62,649.44 L309.52,650.62 L310.43,649.95 L311.35,650.55 L312.27,650.19 L313.20,650.14 L314.12,649.23 L315.05,650.57 L315.99,650.49 L316.92,649.33 L317.85,649.35 L318.79,650.25 L319.72,650.24 L320.65,649.54 L321.58,650.74 L322.50,649.41 L323.43,650.12 L324.35,650.00 L325.26,649.78 L326.17,650.29 L327.08,649.96 L327.97,650.45 L328.86,650.47 L329.75,649.33 L330.62,649.81 L331.49,650.14 L332.34,649.78 L333.19,650.24 L334.02,649.39 L334.85,649.51 L335.66,650.13 L336.46,649.69 L337.24,649.68 L338.01,649.99 L338.77,650.27 L339.51,650.37 L340.24,650.29 L340.95,650.14 L341.64,650.05 L342.32,650.71 L342.97,650.70 L343.61,650.76 L344.23,650.83 L344.82,650.43 L345.40,649.72 L345.96,650.48 L346.49,649.86 L347.00,649.89 L347.49,650.04 L347.95,649.49 L348.39,650.10 L348.80,649.74" fill="none" stroke="#ff0000" stroke-width="1.7" stroke-linejoin="round"/>
<path d="M58.40,652.54 L58.88,652.27 L59.46,653.01 L60.15,652.13 L60.92,652.82 L61.75,652.55 L62.64,652.08 L63.58,652.74 L64.53,652.02 L65.50,652.59 L66.46,652.03 L67.41,652.05 L68.33,652.53 L69.19,653.11 L70.00,652.04 L70.89,652.16 L71.76,652.74 L72.61,653.19 L73.45,652.60 L74.28,652.30 L75.10,653.14 L75.91,651.71 L76.73,652.89 L77.54,652.00 L78.35,651.75 L79.17,651.67 L80.00,651.91 L80.83,652.63 L81.67,651.64 L82.50,652.19 L83.33,652.23 L84.17,651.79 L85.00,652.00 L85.83,651.23 L86.67,651.17 L87.50,651.33 L88.33,651.99 L89.17,651.55 L90.00,651.32 L90.85,651.66 L91.71,651.40 L92.59,651.10 L93.48,651.76 L94.37,651.54 L95.25,650.78 L96.12,651.20 L96.96,651.05 L97.78,651.49 L98.56,651.20 L99.31,650.46 L100.00,651.42 L101.08,650.00 L102.03,650.33 L102.90,650.72 L103.71,649.68 L104.48,650.06 L105.23,649.25 L106.00,650.05 L106.90,650.02 L107.78,649.55 L108.62,649.81 L109.44,648.76 L110.24,649.12 L111.00,648.74 L111.88,648.43 L112.72,647.94 L113.52,648.20 L114.28,648.02 L115.00,646.96 L115.84,646.77 L116.62,645.35 L117.34,645.80 L118.00,645.22 L118.76,645.02 L119.41,644.06 L120.00,642.88 L120.73,643.27 L121.50,644.55 L122.02,644.34 L122.61,645.99 L123.21,646.46 L123.80,646.93 L124.53,646.80 L125.25,647.33 L126.00,645.74 L126.60,645.50 L127.23,645.24 L127.87,645.42 L128.50,644.20 L129.01,643.59 L129.52,642.92 L130.04,642.19 L130.53,641.38 L131.00,640.50 L131.31,639.82 L131.61,639.10 L131.89,638.35 L132.17,637.56 L132.44,636.73 L132.72,635.88 L133.00,635.00 L133.22,634.30 L133.43,633.58 L133.65,632.85 L133.86,632.10 L134.08,631.33 L134.30,630.54 L134.52,629.72 L134.76,628.87 L135.00,628.00 L135.21,627.26 L135.43,626.49 L135.66,625.69 L135.89,624.87 L136.13,624.04 L136.37,623.20 L136.61,622.36 L136.84,621.51 L137.07,620.66 L137.29,619.83 L137.50,619.00 L137.70,618.19 L137.90,617.38 L138.09,616.57 L138.27,615.77 L138.45,614.97 L138.63,614.16 L138.81,613.35 L138.98,612.53 L139.16,611.70 L139.33,610.86 L139.50,610.00 L139.66,609.20 L139.81,608.39 L139.97,607.57 L140.12,606.74 L140.27,605.90 L140.42,605.06 L140.57,604.22 L140.71,603.37 L140.86,602.52 L141.01,601.68 L141.15,600.84 L141.30,600.00 L141.45,599.17 L141.59,598.33 L141.74,597.50 L141.88,596.67 L142.03,595.83 L142.17,595.00 L142.31,594.17 L142.45,593.33 L142.59,592.50 L142.73,591.67 L142.87,590.83 L143.00,590.00 L143.13,589.17 L143.26,588.33 L143.39,587.50 L143.51,586.67 L143.64,585.83 L143.76,585.00 L143.89,584.17 L144.01,583.33 L144.13,582.50 L144.25,581.67 L144.38,580.83 L144.50,580.00 L144.62,579.17 L144.75,578.33 L144.88,577.50 L145.00,576.67 L145.12,575.83 L145.25,575.00 L145.38,574.17 L145.50,573.33 L145.62,572.50 L145.75,571.67 L145.88,570.83 L146.00,570.00 L146.12,569.19 L146.24,568.41 L146.36,567.66 L146.47,566.93 L146.59,566.19 L146.71,565.44 L146.83,564.66 L146.95,563.85 L147.08,562.99 L147.21,562.07 L147.35,561.08 L147.50,560.00 L147.59,559.33 L147.69,558.63 L147.78,557.88 L147.89,557.10 L147.99,556.28 L148.10,555.45 L148.21,554.59 L148.32,553.72 L148.43,552.84 L148.54,551.95 L148.66,551.05 L148.77,550.16 L148.88,549.28 L148.99,548.41 L149.10,547.55 L149.21,546.72 L149.31,545.90 L149.42,545.12 L149.51,544.37 L149.61,543.67 L149.70,543.00 L149.85,541.91 L149.99,540.90 L150.12,539.94 L150.25,539.05 L150.37,538.20 L150.49,537.39 L150.60,536.62 L150.72,535.87 L150.83,535.15 L150.95,534.43 L151.07,533.72 L151.20,533.00 L151.37,532.06 L151.55,531.16 L151.72,530.30 L151.90,529.47 L152.08,528.67 L152.26,527.89 L152.44,527.14 L152.62,526.41 L152.80,525.70 L153.04,524.81 L153.28,523.95 L153.53,523.13 L153.78,522.35 L154.03,521.61 L154.27,520.93 L154.50,520.30 L154.90,519.33 L155.29,518.51 L155.66,517.84 L156.00,517.30 L157.00,516.50 L158.00,517.00 L158.39,517.55 L158.82,518.32 L159.30,519.50 L159.51,520.08 L159.73,520.74 L159.96,521.46 L160.21,522.24 L160.45,523.06 L160.68,523.92 L160.90,524.80 L161.10,525.70 L161.24,526.44 L161.38,527.21 L161.51,528.01 L161.63,528.84 L161.74,529.67 L161.86,530.53 L161.97,531.39 L162.08,532.26 L162.19,533.13 L162.30,534.00 L162.40,534.79 L162.50,535.60 L162.60,536.42 L162.69,537.24 L162.79,538.07 L162.89,538.90 L162.98,539.73 L163.08,540.56 L163.18,541.38 L163.29,542.20 L163.40,543.00 L163.53,543.87 L163.66,544.73 L163.79,545.59 L163.93,546.44 L164.07,547.28 L164.22,548.12 L164.36,548.97 L164.51,549.81 L164.65,550.65 L164.80,551.50 L164.95,552.34 L165.10,553.15 L165.26,553.96 L165.41,554.76 L165.57,555.57 L165.72,556.39 L165.88,557.24 L166.02,558.11 L166.17,559.03 L166.30,560.00 L166.39,560.72 L166.48,561.48 L166.56,562.25 L166.64,563.04 L166.72,563.85 L166.79,564.68 L166.87,565.51 L166.94,566.36 L167.02,567.20 L167.09,568.05 L167.16,568.90 L167.24,569.74 L167.32,570.58 L167.40,571.40 L167.48,572.22 L167.56,573.04 L167.64,573.86 L167.72,574.68 L167.80,575.50 L167.88,576.33 L167.96,577.15 L168.05,577.97 L168.13,578.80 L168.22,579.62 L168.31,580.44 L168.40,581.26 L168.50,582.08 L168.60,582.90 L168.70,583.72 L168.81,584.53 L168.92,585.35 L169.03,586.16 L169.15,586.98 L169.26,587.79 L169.38,588.61 L169.50,589.42 L169.63,590.23 L169.76,591.05 L169.89,591.86 L170.02,592.67 L170.16,593.49 L170.30,594.30 L170.44,595.11 L170.59,595.93 L170.74,596.74 L170.90,597.56 L171.06,598.37 L171.22,599.19 L171.38,600.00 L171.55,600.81 L171.72,601.63 L171.89,602.44 L172.06,603.26 L172.24,604.07 L172.42,604.89 L172.60,605.70 L172.79,606.53 L172.98,607.37 L173.18,608.23 L173.39,609.10 L173.60,609.98 L173.81,610.85 L174.03,611.71 L174.24,612.56 L174.45,613.40 L174.65,614.21 L174.85,614.99 L175.04,615.73 L175.23,616.44 L175.40,617.10 L175.68,618.15 L175.93,619.08 L176.17,619.92 L176.39,620.69 L176.61,621.41 L176.83,622.11 L177.06,622.80 L177.30,623.50 L177.63,624.42 L177.95,625.29 L178.28,626.11 L178.62,626.93 L178.99,627.75 L179.40,628.60 L179.78,629.36 L180.19,630.14 L180.62,630.92 L181.07,631.71 L181.53,632.49 L182.01,633.26 L182.50,634.00 L183.01,634.73 L183.54,635.45 L184.08,636.16 L184.64,636.85 L185.20,637.53 L185.76,638.18 L186.30,638.80 L186.91,639.49 L187.49,640.15 L188.08,640.77 L188.67,641.37 L189.31,641.95 L190.00,642.50 L190.65,642.96 L191.33,643.40 L192.05,643.83 L192.79,644.24 L193.53,644.62 L194.27,644.98 L195.00,645.30 L195.78,645.63 L196.48,645.90 L197.19,646.14 L197.96,646.36 L198.88,646.57 L200.00,646.80 L200.64,646.92 L201.32,647.05 L202.03,647.17 L202.78,647.30 L203.56,647.42 L204.38,647.54 L205.23,646.92 L206.11,647.60 L207.03,647.86 L207.99,648.01 L208.98,647.66 L210.00,648.21 L210.69,647.52 L211.39,647.96 L212.09,647.76 L212.81,648.27 L213.53,647.78 L214.26,647.80 L215.01,648.27 L215.78,648.21 L216.56,648.78 L217.37,648.73 L218.21,649.11 L219.07,649.01 L219.97,649.13 L220.90,649.42 L221.86,648.72 L222.87,648.66 L223.91,649.69 L225.00,648.47 L225.65,649.36 L226.32,649.26 L227.00,648.38 L227.70,649.59 L228.41,649.70 L229.13,649.32 L229.87,649.50 L230.62,649.64 L231.38,648.65 L232.15,649.25 L232.93,649.24 L233.72,649.76 L234.52,649.73 L235.33,649.79 L236.15,649.44 L236.98,649.92 L237.81,649.63 L238.65,649.66 L239.50,648.99 L240.35,648.71 L241.21,648.88 L242.08,649.24 L242.95,648.87 L243.82,649.99 L244.70,649.59 L245.58,649.71 L246.46,649.72 L247.34,649.82 L248.23,649.55 L249.11,648.84 L250.00,650.05 L250.74,649.99 L251.49,649.63 L252.23,649.69 L252.98,649.89 L253.72,649.01 L254.47,650.03 L255.22,649.31 L255.97,649.06 L256.73,649.36 L257.48,650.06 L258.24,649.29 L259.00,650.10 L259.77,650.46 L260.54,649.75 L261.32,649.60 L262.09,649.75 L262.88,650.07 L263.67,650.20 L264.46,649.99 L265.26,650.04 L266.07,649.20 L266.88,649.31 L267.70,649.48 L268.52,650.22 L269.35,649.58 L270.19,649.98 L271.04,649.16 L271.89,649.24 L272.76,649.56 L273.63,650.18 L274.51,650.22 L275.40,650.21 L276.30,649.64 L277.21,649.99 L278.13,649.92 L279.06,649.94 L280.00,649.43 L280.71,650.60 L281.42,649.57 L282.15,650.74 L282.89,650.69 L283.65,649.32 L284.41,650.00 L285.18,650.55 L285.96,650.78 L286.74,650.01 L287.54,649.75 L288.34,649.67 L289.15,650.79 L289.97,649.69 L290.79,650.26 L291.62,649.61 L292.45,650.20 L293.29,650.85 L294.13,649.63 L294.97,650.67 L295.82,650.22 L296.67,650.79 L297.52,650.53 L298.37,649.83 L299.22,650.84 L300.07,650.24 L300.93,649.55 L301.78,649.53 L302.63,650.28 L303.48,650.23 L304.33,650.01 L305.17,649.78 L306.01,650.10 L306.85,650.07 L307.68,650.86 L308.51,649.61 L309.33,650.75 L310.15,650.89 L310.96,649.82 L311.76,651.04 L312.56,650.73 L313.34,651.02 L314.12,650.11 L314.90,650.25 L315.66,650.29 L316.41,651.21 L317.15,650.60 L317.88,650.27 L318.60,650.38 L319.31,650.15 L320.00,649.82 L320.96,649.91 L321.92,651.02 L322.88,650.21 L323.85,651.20 L324.82,650.18 L325.78,650.21 L326.75,650.59 L327.71,650.12 L328.66,650.41 L329.61,651.29 L330.56,651.19 L331.50,651.09 L332.43,650.83 L333.34,651.27 L334.25,651.32 L335.15,650.74 L336.03,651.00 L336.90,650.01 L337.75,651.04 L338.59,650.62 L339.41,651.09 L340.21,650.93 L340.99,650.40 L341.75,650.05 L342.48,651.38 L343.20,650.18 L343.89,650.71 L344.55,650.52 L345.19,650.46 L345.80,651.13 L346.38,651.49 L346.93,650.42 L347.44,651.02 L347.93,650.49 L348.38,650.88 L348.80,650.64" fill="none" stroke="#000" stroke-width="1.7" stroke-linejoin="round"/></g>
<rect x="58.4" y="376.9" width="290.40000000000003" height="285.70000000000005" fill="none" stroke="#000" stroke-width="1.3"/>
<line x1="58.40" y1="662.60" x2="58.40" y2="665.40" stroke="#000" stroke-width="1.1"/>
<line x1="58.40" y1="376.90" x2="58.40" y2="379.70" stroke="#000" stroke-width="1.1"/>
<line x1="94.70" y1="662.60" x2="94.70" y2="667.20" stroke="#000" stroke-width="1.1"/>
<line x1="94.70" y1="376.90" x2="94.70" y2="381.50" stroke="#000" stroke-width="1.1"/>
<line x1="131.00" y1="662.60" x2="131.00" y2="665.40" stroke="#000" stroke-width="1.1"/>
<line x1="131.00" y1="376.90" x2="131.00" y2="379.70" stroke="#000" stroke-width="1.1"/>
<line x1="167.30" y1="662.60" x2="167.30" y2="667.20" stroke="#000" stroke-width="1.1"/>
<line x1="167.30" y1="376.90" x2="167.30" y2="381.50" stroke="#000" stroke-width="1.1"/>
<line x1="203.60" y1="662.60" x2="203.60" y2="665.40" stroke="#000" stroke-width="1.1"/>
<line x1="203.60" y1="376.90" x2="203.60" y2="379.70" stroke="#000" stroke-width="1.1"/>
<line x1="239.90" y1="662.60" x2="239.90" y2="667.20" stroke="#000" stroke-width="1.1"/>
<line x1="239.90" y1="376.90" x2="239.90" y2="381.50" stroke="#000" stroke-width="1.1"/>
<line x1="276.20" y1="662.60" x2="276.20" y2="665.40" stroke="#000" stroke-width="1.1"/>
<line x1="276.20" y1="376.90" x2="276.20" y2="379.70" stroke="#000" stroke-width="1.1"/>
<line x1="312.50" y1="662.60" x2="312.50" y2="667.20" stroke="#000" stroke-width="1.1"/>
<line x1="312.50" y1="376.90" x2="312.50" y2="381.50" stroke="#000" stroke-width="1.1"/>
<line x1="348.80" y1="662.60" x2="348.80" y2="665.40" stroke="#000" stroke-width="1.1"/>
<line x1="348.80" y1="376.90" x2="348.80" y2="379.70" stroke="#000" stroke-width="1.1"/>
<line x1="53.80" y1="662.60" x2="58.40" y2="662.60" stroke="#000" stroke-width="1.1"/>
<line x1="348.80" y1="662.60" x2="344.20" y2="662.60" stroke="#000" stroke-width="1.1"/>
<line x1="55.60" y1="626.89" x2="58.40" y2="626.89" stroke="#000" stroke-width="1.1"/>
<line x1="348.80" y1="626.89" x2="346.00" y2="626.89" stroke="#000" stroke-width="1.1"/>
<line x1="53.80" y1="591.17" x2="58.40" y2="591.17" stroke="#000" stroke-width="1.1"/>
<line x1="348.80" y1="591.17" x2="344.20" y2="591.17" stroke="#000" stroke-width="1.1"/>
<line x1="55.60" y1="555.46" x2="58.40" y2="555.46" stroke="#000" stroke-width="1.1"/>
<line x1="348.80" y1="555.46" x2="346.00" y2="555.46" stroke="#000" stroke-width="1.1"/>
<line x1="53.80" y1="519.75" x2="58.40" y2="519.75" stroke="#000" stroke-width="1.1"/>
<line x1="348.80" y1="519.75" x2="344.20" y2="519.75" stroke="#000" stroke-width="1.1"/>
<line x1="55.60" y1="484.04" x2="58.40" y2="484.04" stroke="#000" stroke-width="1.1"/>
<line x1="348.80" y1="484.04" x2="346.00" y2="484.04" stroke="#000" stroke-width="1.1"/>
<line x1="53.80" y1="448.32" x2="58.40" y2="448.32" stroke="#000" stroke-width="1.1"/>
<line x1="348.80" y1="448.32" x2="344.20" y2="448.32" stroke="#000" stroke-width="1.1"/>
<line x1="55.60" y1="412.61" x2="58.40" y2="412.61" stroke="#000" stroke-width="1.1"/>
<line x1="348.80" y1="412.61" x2="346.00" y2="412.61" stroke="#000" stroke-width="1.1"/>
<line x1="53.80" y1="376.90" x2="58.40" y2="376.90" stroke="#000" stroke-width="1.1"/>
<line x1="348.80" y1="376.90" x2="344.20" y2="376.90" stroke="#000" stroke-width="1.1"/>
<text x="49.2" y="666.9" font-size="12.2" font-weight="bold" text-anchor="end" textLength="5.0" lengthAdjust="spacingAndGlyphs">0</text>
<text x="49.2" y="595.5" font-size="12.2" font-weight="bold" text-anchor="end" textLength="20.0" lengthAdjust="spacingAndGlyphs">5000</text>
<text x="49.2" y="524.0" font-size="12.2" font-weight="bold" text-anchor="end" textLength="25.0" lengthAdjust="spacingAndGlyphs">10000</text>
<text x="49.2" y="452.6" font-size="12.2" font-weight="bold" text-anchor="end" textLength="25.0" lengthAdjust="spacingAndGlyphs">15000</text>
<text x="49.2" y="381.2" font-size="12.2" font-weight="bold" text-anchor="end" textLength="25.0" lengthAdjust="spacingAndGlyphs">20000</text>
<text x="94.7" y="680.8" font-size="11.5" font-weight="bold" text-anchor="middle" textLength="15.600000000000001" lengthAdjust="spacingAndGlyphs">800</text>
<text x="167.3" y="680.8" font-size="11.5" font-weight="bold" text-anchor="middle" textLength="20.8" lengthAdjust="spacingAndGlyphs">1000</text>
<text x="239.9" y="680.8" font-size="11.5" font-weight="bold" text-anchor="middle" textLength="20.8" lengthAdjust="spacingAndGlyphs">1200</text>
<text x="312.5" y="680.8" font-size="11.5" font-weight="bold" text-anchor="middle" textLength="20.8" lengthAdjust="spacingAndGlyphs">1400</text>
<text x="203.6" y="703" font-size="12.8" text-anchor="middle" font-weight="bold" textLength="96" lengthAdjust="spacingAndGlyphs">Wavelength (nm)</text>
<text transform="translate(12,519.1) rotate(-90)" font-size="12.8" text-anchor="middle" font-weight="bold" textLength="85.4" lengthAdjust="spacingAndGlyphs">Intensity (a.u.)</text>
<text x="65.8" y="401.9" font-size="18.5" textLength="24.2" lengthAdjust="spacingAndGlyphs">(b)</text>
<line x1="236.20" y1="394.40" x2="263.30" y2="394.40" stroke="#0000ff" stroke-width="1.6"/>
<text x="266.6" y="398.8" font-size="12.3" textLength="73.5" lengthAdjust="spacingAndGlyphs">TMBi/V=0.036</text>
<line x1="236.20" y1="412.40" x2="263.30" y2="412.40" stroke="#ff0000" stroke-width="1.6"/>
<text x="266.6" y="416.8" font-size="12.3" textLength="73.5" lengthAdjust="spacingAndGlyphs">TMBi/V=0.032</text>
<line x1="236.20" y1="430.40" x2="263.30" y2="430.40" stroke="#000" stroke-width="1.6"/>
<text x="266.6" y="434.8" font-size="12.3" textLength="73.5" lengthAdjust="spacingAndGlyphs">TMBi/V=0.023</text>
</svg></body></html>
